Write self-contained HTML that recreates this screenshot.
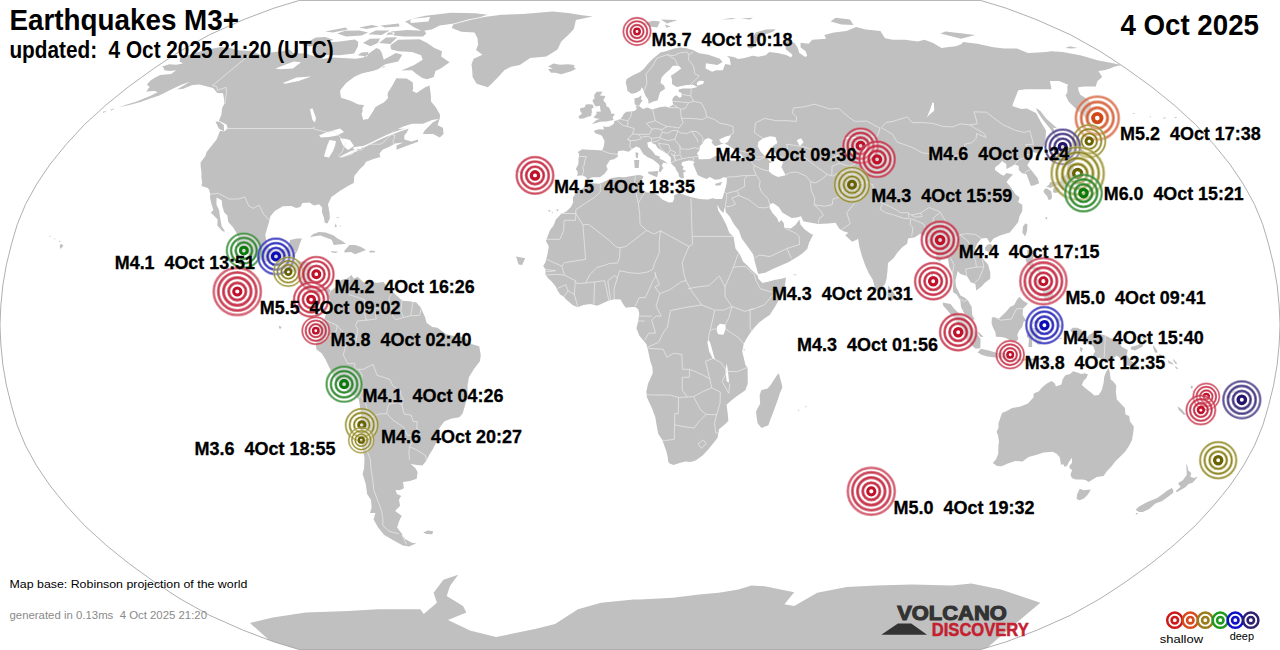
<!DOCTYPE html>
<html><head><meta charset="utf-8">
<style>
html,body{margin:0;padding:0;background:#fff;}
body{width:1280px;height:650px;overflow:hidden;position:relative;font-family:"Liberation Sans",sans-serif;}
svg{position:absolute;left:0;top:0;}
text{white-space:pre;}
</style></head><body>
<svg width="1280" height="650" viewBox="0 0 1280 650">
<defs><clipPath id="oc"><path d="M299.4 649.6L286.6 645.7L273.8 641.8L258.1 635.9L242.4 629.9L225.8 622.5L209.2 615.1L194.6 606.9L180.1 598.8L166.9 590.2L153.8 581.5L141.3 572.5L128.9 563.5L117.2 554.1L105.6 544.7L95.1 535.1L84.5 525.5L75.5 515.7L66.4 505.8L58.3 495.9L50.2 485.9L43.4 475.9L36.7 465.9L31.1 455.8L25.6 445.8L21.4 435.7L17.3 425.6L14.3 415.6L11.4 405.5L8.9 395.4L6.4 385.4L4.7 375.3L2.9 365.3L1.9 355.2L0.9 345.1L0.4 335.1L0.0 325.0L0.4 314.9L0.9 304.9L1.9 294.8L2.9 284.7L4.7 274.7L6.4 264.6L8.9 254.6L11.4 244.5L14.3 234.4L17.3 224.4L21.4 214.3L25.6 204.2L31.1 194.2L36.7 184.1L43.4 174.1L50.2 164.1L58.3 154.1L66.4 144.2L75.5 134.3L84.5 124.5L95.1 114.9L105.6 105.3L117.2 95.9L128.9 86.5L141.3 77.5L153.8 68.5L166.9 59.8L180.1 51.2L194.6 43.1L209.2 34.9L225.8 27.5L242.4 20.1L258.1 14.1L273.8 8.2L286.6 4.3L299.4 0.4L980.6 0.4L993.4 4.3L1006.2 8.2L1021.9 14.1L1037.6 20.1L1054.2 27.5L1070.8 34.9L1085.4 43.1L1099.9 51.2L1113.1 59.8L1126.2 68.5L1138.7 77.5L1151.1 86.5L1162.8 95.9L1174.4 105.3L1184.9 114.9L1195.5 124.5L1204.5 134.3L1213.6 144.2L1221.7 154.1L1229.8 164.1L1236.6 174.1L1243.3 184.1L1248.9 194.2L1254.4 204.2L1258.6 214.3L1262.7 224.4L1265.7 234.4L1268.6 244.5L1271.1 254.6L1273.6 264.6L1275.3 274.7L1277.1 284.7L1278.1 294.8L1279.1 304.9L1279.6 314.9L1280.0 325.0L1279.6 335.1L1279.1 345.1L1278.1 355.2L1277.1 365.3L1275.3 375.3L1273.6 385.4L1271.1 395.4L1268.6 405.5L1265.7 415.6L1262.7 425.6L1258.6 435.7L1254.4 445.8L1248.9 455.8L1243.3 465.9L1236.6 475.9L1229.8 485.9L1221.7 495.9L1213.6 505.8L1204.5 515.7L1195.5 525.5L1184.9 535.1L1174.4 544.7L1162.8 554.1L1151.1 563.5L1138.7 572.5L1126.2 581.5L1113.1 590.2L1099.9 598.8L1085.4 606.9L1070.8 615.1L1054.2 622.5L1037.6 629.9L1021.9 635.9L1006.2 641.8L993.4 645.7L980.6 649.6Z"/></clipPath></defs>
<g clip-path="url(#oc)"><path d="M110.6 109.5L114.8 108.4L111.1 110.7ZM103.0 111.8L107.2 110.7L103.2 113.0ZM94.4 114.1L97.4 113.4L94.5 114.9ZM80.2 116.1L83.6 115.7L80.2 116.8ZM71.3 117.2L74.5 117.0L71.6 118.0ZM1162.4 118.0L1165.6 117.2L1165.3 118.8ZM1174.2 117.6L1176.4 116.8L1176.5 118.4ZM1131.9 113.4L1134.6 113.0L1134.5 114.1ZM1149.0 116.8L1151.1 116.4L1151.0 117.6ZM409.9 18.9L430.1 17.0L428.4 21.6L410.9 23.0ZM433.8 77.1L427.0 79.3L422.3 77.9L416.5 73.9L411.9 70.3L401.4 70.6L414.2 65.0L422.7 59.8L421.1 55.3L412.1 51.9L398.6 51.2L391.2 49.6L390.3 45.3L398.2 39.8L409.5 39.5L419.6 39.2L427.2 43.1L434.4 47.9L442.0 51.2L441.2 56.4L449.6 62.3L440.7 68.5L435.4 71.0ZM336.3 217.1L339.6 217.9L337.1 218.3ZM335.7 223.6L337.0 226.4L334.5 227.2ZM340.4 224.4L341.4 227.2L340.5 226.4ZM310.0 46.6L302.1 45.0L315.8 37.5L325.1 36.9L333.5 39.8L321.6 44.4ZM381.5 34.9L368.0 34.3L375.8 30.5L389.8 30.5ZM359.2 27.5L371.9 25.1L378.9 26.6L366.3 29.0ZM386.3 34.9L394.2 34.3L394.5 32.3L388.2 32.6ZM309.8 236.9L313.3 234.0L318.8 232.0L325.7 232.4L333.9 235.6L336.7 238.1L341.3 240.5L346.1 243.7L333.7 245.1L331.6 239.7L325.0 237.3L320.7 235.6L316.5 236.0ZM423.1 36.6L403.8 36.6L394.0 35.6L391.0 31.4L406.9 29.9L424.5 30.8L426.2 33.5ZM487.5 14.8L475.6 13.2L450.9 12.7L425.4 15.8L414.3 18.2L405.0 21.6L409.4 24.2L414.5 27.5L421.9 31.1L431.7 29.6L439.8 25.4L454.1 23.6L468.2 19.6L479.6 17.2ZM423.3 532.4L427.6 530.5L433.2 531.2L432.3 534.3L426.1 533.9ZM278.8 325.8L281.7 327.0L280.3 329.0L279.2 328.2ZM487.8 87.3L476.6 83.7L472.6 77.1L472.2 70.3L471.5 64.3L473.7 58.8L482.4 54.7L476.0 49.9L478.1 44.7L477.5 38.2L474.5 32.6L461.2 31.7L451.8 28.1L453.2 24.5L469.9 20.1L484.2 17.0L501.4 14.8L523.3 14.1L552.5 11.5L568.5 12.9L582.2 15.3L592.6 16.5L575.9 20.1L573.9 29.0L568.2 34.9L561.3 41.4L557.5 49.6L546.4 56.4L530.2 58.1L519.8 65.0L511.0 66.7L504.3 70.3L499.4 75.7L492.4 82.9ZM60.9 243.7L63.5 245.7L60.3 248.9L59.7 245.7ZM58.9 240.5L61.2 241.3L59.5 242.1ZM54.0 238.1L55.8 239.3L54.4 239.3ZM49.5 235.6L51.1 236.0L49.8 236.9ZM344.2 250.9L349.4 244.9L355.3 244.9L361.7 247.3L365.9 250.1L361.6 251.7L355.0 254.2L351.0 252.1L344.7 252.5ZM551.1 72.8L548.0 69.2L552.8 68.5L548.0 66.4L553.5 63.6L559.9 64.7L568.0 64.3L574.3 65.0L574.0 67.8L576.3 68.5L572.0 71.0L561.2 74.3L555.2 72.8ZM330.8 250.9L338.1 251.7L335.9 253.0L332.1 252.5ZM357.7 55.3L367.1 56.4L368.5 51.9L361.5 52.6ZM368.1 32.6L359.4 30.5L344.9 30.8L337.2 33.5L346.0 36.6L361.6 35.6ZM162.0 66.4L169.4 64.3L176.1 64.7L183.0 63.6L179.6 61.6L180.3 57.1L188.5 55.0L202.9 50.5L220.8 47.0L230.8 48.3L237.8 50.2L249.6 50.9L255.0 52.6L261.0 55.0L270.4 52.6L282.3 51.2L289.6 49.6L293.1 52.9L305.2 53.6L315.1 56.4L323.1 58.8L333.6 57.4L342.1 58.1L355.8 58.8L363.6 57.4L376.4 47.9L379.8 49.6L381.8 52.9L383.8 59.8L395.9 52.9L402.2 54.7L398.2 61.6L385.4 64.3L376.6 70.3L366.6 72.8L355.5 78.2L345.6 84.7L340.0 91.0L341.0 97.8L350.6 100.8L358.4 104.5L366.0 105.3L361.5 113.7L363.3 119.9L368.1 118.4L375.3 107.2L385.7 99.7L388.1 92.2L392.8 84.7L396.3 78.2L406.6 78.6L412.7 82.2L413.2 88.4L412.4 91.0L416.5 92.9L425.2 87.3L429.6 85.5L430.9 95.9L431.0 101.5L435.8 107.2L440.2 114.9L439.6 118.8L432.1 119.9L422.8 123.8L412.0 123.8L403.2 126.5L393.5 131.2L387.1 135.5L397.4 129.2L408.8 128.1L406.8 132.4L404.3 135.5L404.4 139.5L411.6 141.4L418.0 139.5L418.1 141.8L406.9 145.8L396.5 149.7L396.5 145.4L403.2 142.6L395.0 143.4L388.9 147.0L382.4 149.7L379.4 153.7L380.5 156.9L375.0 158.5L366.0 161.7L364.0 165.3L359.9 168.9L354.3 176.1L353.8 182.9L347.9 186.1L339.8 191.0L331.4 197.0L328.0 204.2L329.4 212.3L329.9 218.3L327.4 223.6L324.8 222.8L323.9 217.5L321.9 212.3L322.2 207.5L319.1 204.2L313.8 205.5L309.4 202.6L302.4 203.0L300.4 207.1L296.1 207.9L291.5 205.9L282.8 206.3L274.8 211.1L270.4 216.3L268.9 222.4L265.3 234.4L266.2 241.3L268.7 247.7L273.1 250.5L281.2 250.1L286.7 248.5L289.0 244.5L290.1 240.1L297.0 238.5L301.9 238.5L299.5 244.5L297.6 250.5L295.3 254.6L294.5 261.0L300.7 261.4L308.8 261.8L311.6 264.6L310.2 272.7L308.9 278.7L309.6 283.1L314.2 288.8L319.5 288.4L323.2 286.4L328.4 288.0L330.7 290.8L328.3 296.0L326.8 291.6L323.0 289.2L319.7 292.0L320.2 295.2L315.7 294.0L310.5 291.6L308.1 290.4L304.8 286.4L301.0 284.3L301.7 280.3L298.6 275.9L295.7 272.3L289.9 270.7L282.3 269.1L277.6 263.4L272.9 259.8L265.5 262.2L258.9 259.4L250.6 255.8L242.6 251.3L237.1 246.1L237.0 242.5L238.8 238.5L236.9 233.6L233.0 227.2L228.3 222.0L227.3 215.5L224.1 212.3L222.3 206.3L221.7 200.2L216.6 197.4L216.4 204.2L219.1 210.3L220.0 217.1L221.7 226.4L225.2 231.6L222.5 231.2L217.3 225.6L217.6 219.5L213.3 215.1L210.9 212.7L213.4 209.9L211.3 203.4L210.0 197.8L210.2 193.8L209.1 189.8L207.7 188.1L201.4 186.1L202.2 182.1L201.3 176.5L201.5 172.9L200.6 166.1L200.6 162.5L205.4 156.1L206.6 152.1L216.6 139.5L220.0 130.8L224.1 131.6L227.8 128.5L226.5 124.5L218.9 120.7L221.3 114.9L222.1 108.0L224.4 103.4L223.9 98.2L223.0 93.3L217.3 92.9L213.1 88.0L207.0 86.5L199.6 84.4L192.5 85.1L183.2 88.8L176.9 89.5L190.0 81.8L181.4 84.7L171.2 89.5L159.2 95.5L150.9 98.2L140.7 101.9L131.4 104.5L124.7 106.0L118.7 107.2L127.7 104.2L136.7 101.5L150.1 95.9L157.6 92.2L154.9 91.0L146.1 91.4L149.7 86.9L146.8 84.4L150.5 80.4L155.2 77.5L160.2 75.0L171.0 73.9L176.3 70.3L169.9 71.0L164.3 70.3L163.8 68.1ZM422.8 134.0L433.1 134.0L439.8 137.5L443.5 134.0L443.0 127.7L437.6 125.3L439.7 118.4L433.0 122.2L424.7 130.4ZM370.5 46.3L362.9 43.1L370.0 38.8L380.1 38.5L377.7 43.1ZM325.2 31.4L345.4 27.5L347.9 29.6L332.7 32.6ZM369.8 250.5L375.3 250.9L374.4 252.5L369.5 252.5ZM380.6 25.4L398.9 23.6L399.5 26.6L384.6 27.5ZM330.7 290.8L335.5 287.2L337.6 282.3L342.4 279.5L346.7 278.7L351.6 275.1L353.8 278.7L357.5 276.7L360.1 279.1L363.4 282.3L371.2 282.3L377.5 282.7L383.6 281.9L388.6 288.8L392.0 291.2L397.1 296.0L402.3 300.8L409.3 301.3L416.4 302.5L420.9 307.7L425.0 316.9L426.7 323.0L432.4 327.0L437.4 327.8L446.3 334.3L455.3 336.3L464.1 337.1L471.3 343.9L479.2 346.3L480.8 355.2L479.9 361.2L473.8 369.3L468.9 377.3L467.5 385.4L467.6 396.2L464.8 406.3L462.6 413.6L459.4 417.2L450.8 418.8L444.2 421.6L438.2 429.7L439.1 438.9L435.6 443.7L432.5 449.8L429.4 454.6L426.5 460.6L422.4 465.5L416.9 465.1L410.7 463.9L415.3 467.9L417.6 471.9L416.7 478.7L410.0 481.1L403.0 481.9L403.9 488.3L399.6 490.3L395.6 489.9L396.9 493.9L401.5 495.9L400.3 497.1L399.0 499.9L400.1 505.8L395.1 510.9L401.7 515.7L399.0 521.5L397.1 527.4L402.3 534.3L402.2 535.5L405.1 538.9L412.0 542.8L416.5 543.6L412.9 544.7L409.4 546.6L402.9 545.5L394.6 540.9L384.2 535.1L378.1 527.4L373.6 519.6L375.4 512.9L370.0 512.9L371.6 507.8L371.0 499.9L367.1 493.9L365.8 483.9L362.6 473.9L364.1 467.9L364.5 457.8L361.8 445.8L361.0 435.7L361.5 425.6L361.0 413.6L358.9 399.5L354.6 395.8L344.7 388.6L336.2 380.5L332.1 373.3L325.4 359.2L321.6 353.2L316.4 349.2L315.8 343.1L318.9 338.7L320.9 335.1L316.9 331.0L319.3 325.0L320.1 321.8L324.4 319.0L325.6 314.9L329.2 310.9L330.4 304.9L329.6 298.8L328.3 296.0ZM390.4 44.0L379.0 43.1L386.0 37.5L397.2 37.2ZM391.1 71.0L389.6 67.4L383.7 66.4L380.2 69.2L383.5 72.1ZM224.1 131.2L218.9 128.8L215.5 121.4L219.5 121.8L223.8 124.9ZM354.1 53.6L339.5 55.3L319.2 55.0L311.5 52.6L315.4 46.3L324.9 42.7L340.1 41.4L354.7 39.5L358.2 41.8L358.0 46.3ZM586.9 180.9L588.9 180.5L593.1 183.3L599.1 183.7L602.5 182.5L606.6 180.5L611.7 178.1L618.4 176.9L624.4 177.3L631.7 176.1L638.3 174.9L641.0 175.3L643.7 176.5L641.7 179.7L643.7 183.3L640.7 187.3L643.0 189.8L646.8 192.6L650.8 192.6L657.9 195.0L662.1 199.4L669.0 202.6L672.7 202.2L674.3 198.2L673.9 195.4L678.9 193.0L684.7 195.0L690.9 197.0L699.5 199.0L707.6 199.4L713.0 198.2L715.8 199.0L722.2 199.0L725.1 206.3L723.4 213.1L720.5 210.3L717.2 204.7L718.1 210.3L721.9 216.3L726.5 225.2L729.2 232.4L733.6 236.9L735.5 248.5L739.9 254.6L743.0 261.4L747.4 265.4L751.8 270.3L757.6 275.5L758.4 278.7L762.4 283.1L769.1 281.5L774.3 279.9L781.3 278.7L785.9 277.5L785.4 282.7L784.5 287.6L781.1 294.8L778.4 300.8L774.9 306.9L769.7 314.9L764.4 318.6L759.1 322.6L753.8 328.2L750.2 333.1L746.9 337.9L743.7 343.9L742.2 351.2L743.8 358.0L745.5 365.3L747.5 367.3L747.7 375.3L747.8 383.4L745.4 390.2L736.4 396.6L731.0 400.7L726.6 404.7L727.7 413.6L728.4 420.8L724.8 424.4L719.0 429.2L717.6 437.7L713.5 442.9L708.0 449.8L702.6 455.4L695.6 460.6L690.5 461.9L685.4 461.4L680.3 462.7L673.5 465.1L669.6 463.5L668.3 461.9L667.7 457.0L666.5 451.8L662.3 440.1L658.2 433.7L656.3 423.6L655.3 417.2L652.2 408.7L647.0 397.5L646.3 391.4L648.1 383.4L652.7 373.3L652.4 367.3L650.3 361.2L647.8 349.2L646.4 344.3L643.6 340.7L639.3 335.5L636.4 328.2L638.2 321.0L639.3 313.7L638.2 309.3L635.7 307.3L632.9 306.9L629.3 307.3L625.8 307.7L623.7 304.9L620.5 299.6L614.1 299.2L608.4 300.8L602.7 303.3L597.4 305.7L590.3 304.1L583.5 304.9L577.5 307.3L572.5 304.9L566.2 299.6L563.8 296.8L560.2 294.4L557.5 290.4L555.7 286.4L551.6 281.5L548.1 278.3L545.4 274.7L545.5 269.5L543.2 265.8L545.4 262.6L547.4 254.6L548.8 246.5L545.9 240.9L549.8 230.4L553.5 225.6L555.9 219.5L561.0 213.9L566.3 211.5L570.9 207.1L573.2 202.2L572.8 197.8L575.1 194.2L577.6 191.0L583.5 188.1L585.7 183.3ZM931.5 270.3L933.1 276.7L931.9 278.7L931.1 273.5ZM1002.3 412.7L1005.7 411.5L1012.2 407.9L1019.7 406.7L1027.9 403.5L1033.4 397.5L1033.7 393.4L1038.6 391.4L1042.0 387.4L1046.8 383.4L1051.6 380.9L1054.9 383.4L1055.9 386.6L1061.4 384.6L1062.7 379.3L1065.3 375.3L1070.0 374.1L1073.2 371.3L1077.3 372.5L1081.3 374.1L1085.0 373.3L1088.0 374.5L1086.1 378.5L1083.7 380.5L1081.8 385.0L1086.4 389.0L1091.0 392.6L1094.4 395.4L1098.7 395.0L1101.7 390.2L1103.5 383.4L1104.3 376.5L1106.4 371.3L1108.6 368.1L1109.8 372.5L1110.7 379.3L1113.9 382.2L1116.3 385.4L1115.8 391.4L1116.8 399.5L1120.6 403.5L1124.9 407.9L1125.5 414.4L1129.3 416.0L1129.9 421.2L1133.8 426.4L1133.4 431.7L1132.0 440.1L1129.1 445.8L1125.1 451.8L1119.8 457.0L1115.2 461.4L1111.9 465.9L1106.6 471.5L1103.7 475.9L1096.8 477.1L1088.7 481.9L1085.4 479.9L1082.3 479.5L1075.7 479.5L1071.9 477.9L1070.4 474.7L1072.1 469.9L1069.6 468.3L1069.4 465.9L1072.0 462.7L1071.8 457.8L1068.9 461.9L1067.0 465.9L1064.6 466.7L1063.1 463.9L1061.0 465.1L1059.8 457.4L1056.8 453.8L1052.5 451.8L1043.7 452.6L1036.0 455.0L1028.6 457.0L1022.6 461.4L1015.4 461.0L1007.8 463.5L1001.8 466.3L997.0 465.9L992.8 463.1L996.2 459.0L998.2 453.8L998.4 445.8L999.0 441.7L998.1 435.7L996.6 431.7L998.6 427.6L998.4 423.6L999.8 419.6L1001.1 415.6ZM512.0 169.7L523.5 172.5L521.5 173.3ZM978.0 331.4L983.5 336.7L980.7 337.1L978.3 333.9ZM991.8 317.8L993.9 316.9L999.0 318.6L1005.9 312.1L1010.0 306.9L1014.2 304.9L1017.1 299.6L1019.4 296.8L1022.5 300.0L1028.0 303.7L1024.6 306.9L1022.9 308.9L1022.7 314.9L1026.4 321.0L1023.6 321.8L1022.2 327.0L1018.9 331.0L1017.3 335.1L1018.3 339.1L1016.5 341.1L1011.5 341.1L1005.9 337.9L1001.3 337.1L996.0 336.7L995.4 332.2L993.0 327.4L991.6 323.8ZM1153.4 345.1L1157.5 351.2L1154.9 352.4L1153.2 347.5ZM548.2 210.3L550.6 209.9L549.1 212.3ZM551.5 211.5L552.9 211.9L552.1 213.5ZM556.1 209.9L558.5 209.1L557.7 211.5ZM516.1 256.6L525.2 258.2L522.1 265.0L518.6 264.6ZM635.5 152.1L638.4 152.9L637.7 158.5L635.8 157.3ZM685.2 182.9L694.6 182.9L694.3 184.1L685.5 183.3ZM714.7 184.1L722.2 181.7L720.5 185.3L716.5 185.7ZM587.9 180.1L585.8 176.9L582.3 175.3L577.2 176.1L577.8 172.1L575.8 168.9L578.4 164.1L578.5 159.3L579.2 154.1L577.8 152.1L582.2 149.3L588.6 149.7L595.7 150.1L602.1 150.5L603.9 146.2L604.5 141.0L602.2 136.3L600.7 135.1L595.2 133.2L593.9 130.8L598.9 129.2L603.9 129.6L603.2 125.7L605.3 126.9L609.7 126.5L613.8 123.8L614.3 121.1L617.0 120.3L620.5 119.1L622.7 116.1L624.0 113.4L626.5 111.8L631.0 111.4L634.6 111.1L636.7 109.1L635.8 105.3L634.7 103.4L634.4 98.5L638.5 97.4L641.4 95.2L641.2 99.7L642.6 100.4L640.6 103.0L639.4 105.3L640.0 106.8L643.0 109.1L647.5 107.6L652.0 109.5L659.4 107.2L665.6 106.4L668.6 107.6L673.2 104.5L672.2 99.7L673.7 96.7L676.5 95.2L679.4 97.8L681.6 96.7L681.5 92.9L678.8 91.8L678.6 89.5L682.8 88.4L691.3 88.4L697.4 86.9L693.1 84.7L686.7 85.1L676.7 86.9L671.9 84.0L672.1 80.0L670.9 75.7L675.5 72.8L681.3 68.5L678.8 65.7L672.9 65.7L669.8 69.6L664.7 73.9L661.6 77.5L660.5 82.9L664.1 85.5L665.1 88.8L660.1 92.2L658.9 95.9L657.6 100.4L653.2 101.5L648.6 103.8L648.2 99.7L645.2 95.2L643.4 89.9L641.7 87.3L640.6 90.3L635.7 92.9L631.3 93.7L627.4 90.7L626.7 86.5L625.7 82.2L626.6 79.3L630.3 76.8L634.5 74.6L640.0 72.1L644.1 68.5L647.5 64.3L651.8 59.8L655.6 56.4L660.5 52.6L666.8 50.9L674.1 48.6L680.3 47.6L686.7 48.3L693.5 50.2L699.2 53.3L708.5 54.7L719.9 58.8L722.5 61.9L717.5 65.0L705.9 63.3L705.6 68.5L712.2 71.7L716.0 70.3L722.8 70.3L725.2 64.0L730.8 65.0L729.7 58.5L727.0 56.0L733.8 57.1L738.3 59.1L744.5 58.1L752.8 55.7L758.4 56.7L765.6 55.3L769.3 51.9L777.5 52.9L786.2 55.0L791.2 57.4L792.5 54.7L786.0 49.6L784.7 43.1L788.1 40.5L794.6 43.1L797.9 47.9L799.3 52.9L805.4 57.1L807.2 55.7L805.6 51.2L800.5 47.3L800.6 42.7L808.7 43.7L812.2 39.8L826.1 38.8L824.3 34.9L833.9 32.6L846.4 31.1L856.1 26.9L865.7 29.6L880.4 31.1L885.0 38.2L892.7 39.8L905.0 39.8L917.8 41.4L924.5 39.8L933.2 43.1L941.5 47.9L947.0 47.3L955.8 46.3L961.7 44.0L962.9 42.1L977.4 43.7L993.5 47.3L1004.2 48.6L1016.9 48.6L1028.0 52.9L1037.8 52.6L1045.9 51.9L1051.4 51.2L1062.5 51.9L1080.3 55.3L1098.3 60.5L1109.3 62.6L1121.7 65.0L1114.2 66.7L1110.0 68.5L1104.3 70.3L1098.4 71.0L1102.2 77.1L1097.5 81.1L1095.7 86.5L1084.4 86.5L1078.1 87.3L1078.4 90.3L1080.3 94.8L1088.3 99.7L1091.3 105.3L1090.6 111.1L1089.6 114.9L1089.3 120.7L1080.3 113.0L1068.5 101.5L1065.6 95.2L1067.4 92.2L1067.3 86.5L1068.1 84.7L1059.1 81.1L1049.9 81.1L1051.5 89.2L1042.9 89.2L1034.3 89.2L1025.8 89.2L1018.2 90.3L1016.5 94.8L1013.8 101.5L1012.3 106.0L1021.5 109.1L1026.9 108.4L1036.0 113.0L1041.2 122.6L1046.0 130.4L1045.6 138.3L1044.7 144.2L1041.7 150.1L1036.8 152.9L1031.5 152.1L1030.5 154.9L1030.3 160.5L1027.2 165.3L1032.2 171.3L1037.5 178.1L1039.2 183.3L1034.3 185.3L1030.9 186.1L1028.7 180.1L1026.4 174.1L1022.1 173.3L1018.8 170.1L1018.7 166.1L1014.7 164.5L1010.0 167.3L1006.4 168.9L1006.3 164.1L1002.1 160.9L999.0 164.5L995.2 167.3L995.0 170.1L1001.1 174.5L1003.6 175.7L1006.7 172.9L1013.0 174.5L1009.6 178.1L1006.5 182.1L1010.8 187.3L1015.5 194.2L1019.6 197.4L1018.2 202.2L1022.4 204.7L1022.3 211.1L1019.5 216.3L1018.2 222.0L1014.7 226.4L1009.8 232.4L1003.2 234.4L1000.0 235.6L993.5 238.5L990.1 243.3L986.8 238.1L981.3 238.5L977.2 243.7L975.1 248.5L978.3 254.6L983.6 259.4L988.1 264.6L990.3 272.7L990.2 278.7L984.9 282.7L981.6 286.4L976.2 290.4L975.4 283.9L970.7 282.3L966.9 275.9L960.4 273.9L957.7 271.1L955.4 280.7L956.2 286.8L960.5 295.6L964.5 297.6L968.2 300.8L971.7 306.9L972.2 314.9L974.8 319.4L972.0 319.8L964.4 313.7L961.0 306.9L960.4 300.8L956.9 294.8L952.9 292.0L953.0 282.7L952.6 273.5L949.2 266.6L948.0 258.6L943.5 256.6L939.9 261.4L936.2 259.8L936.5 253.4L931.8 246.5L927.4 241.7L924.8 235.2L919.8 234.0L915.0 237.3L908.1 238.5L907.1 243.7L902.2 247.3L897.5 252.5L893.5 258.2L888.0 263.0L887.5 270.7L886.6 278.7L885.2 283.5L881.9 288.8L879.2 292.4L875.5 289.2L872.6 279.5L868.6 273.1L865.3 265.4L862.1 256.6L859.6 247.7L858.0 238.5L856.7 239.7L852.1 241.7L845.2 235.2L848.4 232.8L843.4 231.2L839.3 228.8L835.6 222.8L828.4 223.6L818.1 224.0L811.1 222.8L803.3 221.2L801.0 216.3L796.7 217.5L791.6 217.9L782.5 212.7L778.8 207.1L773.0 203.0L769.7 204.2L769.7 208.3L772.9 213.5L777.1 217.9L778.9 222.4L781.4 219.9L783.8 223.2L784.1 227.6L790.8 228.4L795.7 224.8L799.3 219.5L800.6 224.8L804.7 229.6L810.3 233.6L813.1 234.8L809.2 242.5L807.2 248.9L802.9 253.0L797.9 256.6L788.4 262.2L779.1 266.2L773.9 268.6L765.2 272.7L758.2 273.9L755.0 262.6L753.2 254.6L747.6 246.5L741.7 238.5L738.9 230.4L734.1 224.4L729.5 216.3L725.8 212.3L725.1 206.3L722.2 199.0L724.1 193.0L725.7 187.3L726.7 182.9L726.9 177.7L723.2 177.3L720.0 179.3L715.0 179.7L709.8 176.9L706.6 178.9L701.5 176.9L697.7 174.9L695.8 170.5L694.2 166.5L693.1 164.1L694.6 162.1L692.5 160.9L688.9 160.5L685.4 161.3L682.2 162.1L681.3 164.5L683.7 167.3L682.5 169.3L686.3 171.3L683.3 172.5L683.9 178.1L681.6 178.5L678.9 176.5L678.4 172.9L676.7 170.9L675.2 167.3L672.8 165.3L670.8 162.9L670.9 157.7L667.5 154.1L662.5 150.9L657.6 148.1L655.6 144.6L652.7 143.4L651.4 141.4L647.3 142.6L648.0 147.0L651.9 150.5L655.5 155.3L659.8 156.5L659.5 158.5L664.5 160.9L667.8 163.7L663.5 162.5L661.7 165.7L663.4 168.1L660.2 172.5L658.8 170.9L659.7 166.1L658.3 163.7L655.7 161.7L652.4 159.3L647.8 157.3L643.2 154.1L641.6 150.9L639.4 147.7L636.2 146.6L632.0 148.9L628.7 151.7L623.3 150.5L618.4 150.9L617.4 154.1L618.0 156.5L614.0 159.3L610.0 160.1L606.2 166.1L607.7 169.3L604.6 173.7L599.8 177.3L592.1 177.3L589.4 178.5ZM1226.6 395.4L1231.0 394.6L1230.6 397.9L1226.6 398.3ZM1232.8 391.4L1237.3 390.2L1234.2 392.6L1231.7 393.0ZM721.3 19.4L731.5 17.9L736.6 19.1ZM740.7 18.6L753.1 17.7L749.9 19.4ZM591.6 124.1L596.3 123.0L600.1 121.8L606.3 121.4L613.7 119.9L612.6 117.6L614.9 114.1L611.3 113.4L610.6 110.7L609.0 107.6L606.7 106.4L605.7 103.0L603.3 100.4L605.4 95.9L600.0 95.5L602.6 91.8L596.9 91.8L594.2 94.8L594.4 98.5L592.4 100.4L594.1 104.2L595.7 106.4L599.9 105.7L600.2 108.7L600.9 111.4L596.1 111.8L596.8 113.7L593.4 117.6L596.7 118.4L600.0 118.8L596.6 119.9L593.9 122.2ZM984.8 247.7L987.5 244.5L990.9 244.1L992.9 246.1L991.4 250.1L988.5 251.7L985.5 250.5ZM1057.6 317.8L1061.2 319.0L1059.5 323.0L1062.3 328.2L1058.8 327.0L1057.3 321.8ZM1062.5 158.1L1065.7 156.9L1065.4 153.7L1072.0 156.1L1073.7 152.5L1076.9 150.9L1073.3 148.1L1068.9 147.3L1059.3 142.2L1060.8 146.6L1063.0 151.3L1059.5 150.9L1059.5 154.1ZM1046.1 186.5L1048.7 185.3L1050.3 182.1L1054.7 182.1L1060.5 181.7L1060.8 175.3L1063.2 176.9L1066.1 174.5L1067.6 170.9L1067.0 166.1L1064.6 161.7L1064.1 159.3L1067.2 158.5L1069.7 162.1L1073.3 165.7L1074.3 170.9L1073.3 172.9L1075.6 176.9L1076.0 180.5L1077.6 181.7L1075.6 184.5L1072.7 183.3L1072.3 185.7L1068.0 185.7L1066.1 186.9L1065.0 188.6L1062.5 189.8L1060.7 186.9L1057.1 185.3L1053.2 186.5L1050.4 188.1ZM591.1 116.1L591.9 111.8L591.6 108.7L593.8 107.6L592.6 104.5L588.8 104.2L585.8 104.5L584.6 107.2L579.9 108.4L580.2 111.1L582.1 113.4L578.4 116.4L579.6 118.8L583.6 118.4L588.4 116.4ZM977.6 352.4L981.0 348.7L988.7 350.4L996.4 352.8L1003.8 352.8L1010.0 356.0L1010.5 359.6L1004.9 358.4L996.1 357.6L987.3 356.4L981.7 354.8ZM1076.3 148.9L1079.7 144.2L1077.6 143.4ZM1082.3 141.0L1085.0 138.3L1082.9 137.1ZM1085.3 134.3L1087.8 129.2L1086.0 128.5ZM1087.5 124.5L1088.4 121.4L1086.8 121.1ZM1043.4 191.0L1045.2 188.6L1047.2 188.6L1051.3 191.4L1052.0 197.0L1051.4 199.0L1048.8 200.2L1046.8 195.8L1044.7 193.8ZM1011.7 357.6L1014.5 358.8L1012.6 360.4ZM1015.6 358.4L1018.0 358.4L1017.2 360.8L1015.4 360.4ZM1019.1 358.8L1026.2 358.4L1025.7 360.4L1018.9 361.2ZM1029.0 358.8L1040.4 358.0L1039.6 360.0L1029.6 360.4ZM1043.5 364.8L1055.2 358.8L1047.9 362.0L1044.4 366.1ZM1025.9 363.6L1032.2 364.8L1031.0 366.5L1026.2 364.4ZM1027.2 250.5L1028.5 250.1L1033.2 250.9L1033.7 256.6L1032.3 261.0L1034.1 266.6L1037.8 267.8L1042.5 272.7L1041.6 273.9L1036.6 270.7L1033.0 269.5L1029.8 269.1L1030.5 266.2L1027.2 264.6L1025.7 259.4L1027.4 256.6ZM778.8 373.3L781.6 383.4L782.4 387.4L779.7 393.4L777.9 399.5L774.2 409.5L770.4 419.6L768.4 425.2L761.6 428.0L757.7 423.6L756.7 417.6L756.0 411.5L760.2 403.5L759.6 395.4L761.2 390.2L767.6 388.6L771.0 384.6L774.0 379.7L776.9 375.3ZM805.2 405.5L806.8 406.7L805.7 407.5ZM1037.2 296.8L1042.6 293.6L1043.1 290.8L1048.1 285.6L1050.8 288.0L1053.4 295.6L1052.2 299.6L1049.6 302.5L1044.8 299.2L1042.7 294.8L1037.9 297.2ZM1028.9 270.7L1033.3 272.3L1032.6 275.5L1030.0 274.3ZM1130.9 347.1L1138.1 345.1L1142.5 341.9L1145.0 342.3L1141.9 347.1L1134.9 350.4L1130.7 349.2ZM1177.6 406.3L1182.0 409.5L1185.9 414.8L1183.5 414.8L1178.5 409.5ZM1070.1 330.2L1072.6 327.8L1077.2 327.8L1081.5 329.8L1082.3 335.9L1085.1 338.7L1089.5 334.7L1094.6 331.4L1100.2 333.9L1105.4 335.5L1110.7 338.3L1115.9 340.3L1119.4 343.5L1122.0 347.1L1127.8 350.0L1126.7 355.2L1129.9 359.2L1133.2 362.4L1138.2 366.5L1134.6 366.9L1126.6 365.3L1122.8 360.4L1116.8 355.6L1113.0 358.4L1111.7 361.6L1103.9 361.6L1099.9 357.6L1095.3 358.4L1093.0 355.2L1095.1 351.2L1093.0 345.9L1087.1 343.1L1080.4 340.7L1076.8 341.1L1076.3 336.7L1073.1 336.3L1074.6 333.9L1070.8 331.0ZM1140.2 335.9L1145.5 339.1L1148.1 343.5L1146.8 342.3L1142.6 338.3ZM940.5 33.5L945.4 31.4L963.0 33.5L975.1 34.9L961.1 38.8ZM1136.2 512.9L1138.4 513.3L1135.5 514.9ZM746.8 47.0L752.1 42.1L752.5 37.5L755.8 32.6L765.7 29.6L775.9 29.3L772.9 31.7L763.3 34.9L757.2 39.8L755.2 46.0L751.3 48.6ZM1186.5 463.5L1187.5 466.7L1188.4 470.7L1191.3 473.1L1190.3 476.7L1193.9 477.9L1198.0 476.7L1192.5 482.7L1188.5 483.9L1185.7 487.1L1176.9 492.3L1175.8 491.1L1180.7 486.7L1178.4 484.3L1178.7 482.7L1182.8 480.3L1186.7 475.1L1186.7 471.9L1186.3 467.1ZM1171.7 487.9L1173.1 489.5L1173.3 492.7L1168.1 496.7L1162.3 501.1L1155.4 503.4L1149.2 509.0L1142.8 512.1L1139.0 512.1L1135.5 509.8L1139.0 506.6L1147.3 501.9L1157.2 497.9L1162.7 493.9L1167.0 490.7ZM1044.9 217.1L1047.4 217.5L1046.7 219.9ZM1019.8 291.2L1027.0 283.1L1027.5 281.1L1020.7 289.2ZM1035.7 277.9L1040.2 280.7L1041.8 286.8L1038.2 285.6L1036.2 282.7ZM797.6 409.5L799.6 410.3L798.5 411.1ZM1058.0 140.2L1061.4 138.3L1055.5 134.3L1053.2 127.7L1057.4 128.5L1046.4 118.8L1040.4 111.1L1036.1 108.0L1037.1 111.1L1042.1 118.8L1050.0 128.5L1053.7 134.3ZM1043.4 274.7L1049.0 279.9L1047.0 284.7L1044.1 280.7ZM-4.6 378.9L0.7 380.9L-2.2 380.5ZM634.1 160.1L639.3 160.1L638.7 168.1L634.7 168.1ZM1059.2 337.9L1069.1 340.3L1064.5 339.1L1059.9 339.1ZM830.5 21.6L835.7 17.7L850.0 19.4L853.5 25.1L841.5 24.5ZM1052.9 192.2L1053.5 188.1L1057.2 186.5L1059.8 189.0L1059.0 191.4L1055.9 193.0ZM647.9 171.7L658.5 170.9L657.0 177.3L648.6 173.7ZM792.8 274.3L797.1 274.7L795.0 275.5ZM1156.2 350.0L1157.8 352.4L1154.9 352.8L1153.9 347.5ZM1159.4 354.0L1166.2 358.0L1164.3 359.2L1159.3 355.6ZM1167.8 360.0L1172.8 363.2L1173.7 364.8L1168.6 363.2ZM1173.2 358.8L1177.4 363.6L1175.6 364.0L1173.4 360.8ZM1175.0 366.1L1178.6 368.5L1176.7 368.9L1175.2 367.3ZM887.6 298.8L887.6 290.8L888.1 285.6L891.5 289.6L894.9 294.8L894.0 299.2L890.5 301.3L888.3 299.6ZM1028.3 347.1L1029.0 339.1L1026.5 336.3L1028.9 329.0L1030.4 324.2L1032.8 322.2L1035.6 320.2L1041.7 321.4L1047.3 319.4L1049.1 318.6L1046.7 323.0L1041.7 323.4L1035.3 323.0L1032.2 324.2L1031.4 327.4L1036.3 328.6L1043.1 328.6L1040.9 329.8L1036.9 332.6L1039.0 337.1L1041.7 341.1L1040.2 344.7L1037.3 344.3L1035.3 341.1L1033.7 335.5L1032.1 339.1L1032.2 347.1ZM942.7 302.5L950.6 304.1L953.6 308.1L959.8 314.5L965.2 317.8L971.7 325.0L974.1 329.0L977.2 334.3L980.6 339.1L980.3 348.3L975.7 348.7L970.2 343.9L967.8 341.1L963.3 335.1L961.0 328.6L957.1 323.8L955.2 318.2L950.9 314.5L946.9 309.7L943.2 305.7ZM643.4 23.0L653.3 20.7L660.0 21.6L657.3 27.5L649.2 26.6ZM660.9 19.6L677.6 20.1L667.0 23.6ZM664.9 24.5L670.9 26.6L666.5 27.8ZM1022.3 232.4L1025.1 236.4L1027.0 231.2L1027.5 224.4L1025.4 223.2L1023.0 226.4ZM1079.7 488.7L1083.9 490.3L1090.9 489.5L1087.7 494.7L1083.6 498.7L1079.4 500.3L1076.6 499.1L1077.0 494.7ZM1080.1 347.1L1082.9 348.3L1081.5 352.4L1080.2 350.8ZM-5.8 409.9L-4.5 410.7L-5.1 411.1ZM1190.9 385.4L1193.1 386.6L1191.9 389.0L1190.7 387.8ZM1192.3 390.2L1194.1 391.4L1193.0 391.8ZM1194.3 395.4L1195.6 395.8L1194.8 396.6ZM1196.4 400.3L1197.2 401.5L1196.1 401.9ZM1065.1 47.9L1069.9 46.3L1077.7 47.9L1071.2 48.6ZM743.6 348.3L745.0 350.0L743.9 350.8ZM250.0 623.0L272.8 617.4L305.6 612.5L348.3 610.9L377.8 609.2L420.4 609.2L423.7 614.0L436.9 602.7L433.6 592.8L443.4 579.7L458.2 574.8L450.0 586.0L446.7 596.0L463.0 606.0L466.4 612.5L448.0 620.0L470.0 630.5L496.0 637.0L535.0 629.0L555.0 624.0L578.0 609.2L601.0 602.7L633.7 599.4L640.0 599.4L672.8 597.7L699.0 594.4L718.7 592.8L738.4 589.5L751.5 585.6L764.7 586.2L794.2 592.2L784.4 604.3L794.2 606.0L817.2 592.8L846.7 586.9L876.2 585.6L912.3 584.6L951.7 585.6L971.4 583.6L1000.9 589.5L1040.3 602.7L984.5 650.0L280.0 650.0Z" fill="#c0c0c0" stroke="none"/>
<path d="M282.9 82.9L296.5 77.5L311.3 76.4L298.6 81.1L285.0 83.7ZM275.3 68.5L293.8 61.6L301.0 62.3L292.9 68.5L280.0 69.2ZM925.9 118.4L929.1 114.9L934.2 110.7L933.9 103.0L932.5 102.3L930.3 109.1L927.2 116.8ZM717.1 326.6L720.0 323.8L725.0 324.6L725.7 328.6L723.5 334.7L718.2 334.3L716.8 331.0ZM708.2 339.1L710.3 343.1L713.7 355.2L715.1 359.6L712.6 358.4L709.2 351.2L707.5 343.1ZM726.7 363.2L728.0 371.3L729.1 382.6L726.7 381.4L725.5 371.3ZM799.8 146.2L803.6 142.2L801.0 138.3L796.7 140.2ZM842.4 139.5L853.1 138.3L857.6 137.9L855.8 137.1L844.8 137.1ZM697.2 85.8L703.4 83.7L703.8 81.1L699.3 80.8L696.8 82.9ZM757.6 146.2L758.4 141.8L763.1 138.3L769.9 136.3L775.5 137.1L777.4 143.0L772.6 146.2L773.3 151.3L778.7 156.1L779.8 160.1L783.4 161.7L781.4 166.9L785.7 175.3L778.0 176.9L772.6 174.5L768.8 171.3L769.1 166.5L769.2 162.9L771.8 162.5L767.5 158.9L764.8 156.1L760.8 152.1ZM698.6 159.3L698.2 154.9L696.8 153.7L699.5 150.1L699.8 146.2L702.4 143.4L704.8 139.5L708.4 137.9L712.8 140.2L711.5 142.6L715.1 146.2L719.1 145.0L724.3 143.0L721.1 143.0L719.1 139.5L726.5 136.3L731.1 135.5L729.4 139.1L727.9 141.8L724.7 143.4L728.8 145.8L734.7 149.7L738.3 152.1L742.4 156.1L742.7 158.1L737.8 160.5L731.3 160.5L725.6 158.9L721.0 156.1L715.5 156.1L709.9 158.9L702.5 159.3ZM340.8 89.4L346.1 83.0L354.8 76.5L362.3 73.3L373.1 71.1L381.7 67.9L390.3 65.8L396.7 69.0L394.6 76.5L390.3 85.1L387.0 92.7L388.1 98.0L383.8 102.4L375.2 106.7L373.1 111.0L367.7 119.6L363.4 117.4L362.3 108.8L364.4 104.5L355.8 101.3L349.4 98.0L341.8 97.0ZM319.0 135.5L326.0 132.5L333.0 130.5L340.0 128.5L344.0 132.0L337.0 135.5L329.0 137.0L321.0 137.5ZM329.5 140.0L336.0 141.0L335.0 146.0L333.0 151.0L329.0 157.5L324.0 156.5L325.5 151.0L327.0 146.0ZM340.0 138.5L345.0 138.8L350.0 140.0L354.0 146.0L348.0 150.0L343.0 145.5ZM340.0 156.5L345.0 154.0L350.0 151.5L357.5 148.7L356.5 151.5L348.0 155.0L342.0 157.5ZM353.5 147.2L358.0 146.5L362.5 146.0L361.5 148.8L356.0 149.6L353.5 149.6ZM310.0 109.0L312.5 108.5L316.0 118.0L315.0 122.5L312.5 120.0L311.0 114.0ZM362.0 146.5L370.0 143.0L378.0 139.0L387.5 134.5L400.0 130.0L412.5 125.5L413.0 127.0L400.0 131.5L388.0 136.0L378.0 140.5L370.0 144.5L363.0 148.0Z" fill="#fff" stroke="none"/>
<path d="M226.0 128.5L313.2 128.5L314.1 126.9L314.1 129.2L324.7 131.6L328.6 132.4L334.2 131.2L341.0 137.9L342.0 139.1L343.6 141.0L345.8 143.0L342.2 152.1L338.5 155.7L339.7 157.3L352.4 154.1L353.2 151.3L362.2 149.7L363.8 147.3L369.1 144.2L380.3 144.2L383.7 142.2L387.8 137.5L391.5 134.7L395.1 135.1L393.0 141.8L394.4 145.0M252.4 52.6L212.5 85.5L216.9 86.5L217.4 90.3L226.1 87.3L226.6 92.5L225.0 101.5L225.4 104.2M210.1 194.2L218.5 193.4L228.9 199.0L238.4 199.0L244.9 197.0L248.7 205.9L253.2 208.3L259.2 205.1L263.7 214.3L270.0 220.8M280.1 266.6L280.7 264.2L284.3 260.6L287.2 260.2L288.2 253.4L292.7 253.4L295.9 250.5M292.7 253.4L291.3 261.0L294.7 261.8M287.1 269.9L290.2 267.0L292.9 268.6L295.5 271.5M290.8 264.6L292.9 268.6M296.8 272.7L301.7 268.6L305.5 265.4L311.9 264.6M301.7 280.3L308.7 281.1M310.8 292.8L312.2 286.4M331.1 290.4L328.3 296.0M349.7 277.1L349.0 280.7L346.4 288.8L349.3 294.8L356.3 296.8L365.0 300.0L363.7 306.9L365.3 316.9L366.7 320.2M392.7 291.6L389.3 297.6L389.0 304.1L381.4 308.9L374.4 308.1L376.3 319.0L366.7 320.2M401.9 301.3L400.9 311.3L403.7 317.4M412.9 302.1L410.8 315.7M389.0 304.1L391.8 308.1L392.7 316.5L395.8 319.8L403.7 317.4L410.8 315.7L419.7 315.3L421.2 308.1M366.7 320.2L357.4 321.0L355.6 325.8L357.8 329.4L355.9 341.9M355.9 341.9L345.4 334.7L337.1 325.4M337.1 325.4L329.0 321.8L324.4 319.4M337.1 325.4L336.1 331.0L326.3 338.7L319.2 338.7M355.9 341.9L345.7 345.9L343.3 354.8L347.6 363.6L354.6 363.2L355.0 369.3L358.6 369.3M358.6 369.3L362.2 375.3L360.6 386.6L362.6 391.4L360.2 395.4L358.5 398.7M358.6 369.3L363.2 369.3L373.1 364.4L377.0 375.3L389.7 379.3L392.9 385.8L400.4 390.6L400.8 395.0L403.2 398.3L401.8 404.7M360.2 395.4L365.6 403.5L367.6 411.1L371.8 416.8M371.8 416.8L379.1 414.0L386.7 413.6M386.7 413.6L387.7 407.5L389.4 403.9L398.4 402.7L401.8 404.7M401.8 404.7L404.2 414.0L411.2 415.2L413.3 421.6L417.1 421.6L416.9 428.0M386.7 413.6L393.8 420.8L403.2 426.8L407.6 435.3L414.2 435.3L416.9 428.0M371.8 416.8L368.6 424.0L369.5 433.7L367.2 441.7L367.4 451.8L370.4 459.8L371.1 469.9L372.8 479.9L373.8 489.9L378.2 501.9L381.8 511.7L382.9 519.6L382.9 525.5L388.9 531.2L398.8 533.9M402.2 535.5L406.5 544.3M416.9 428.0L420.5 434.1L414.4 438.9L409.4 446.6L408.9 453.8L409.5 459.8M409.4 446.6L415.5 449.4L425.5 455.4L426.5 460.6M600.4 184.1L600.2 192.2L593.8 197.8L575.9 209.5L575.8 213.5M575.8 213.5L560.3 213.5M575.8 213.5L575.5 220.3L564.1 220.3L563.7 230.4L559.9 239.3L545.9 239.3M582.9 224.8L585.6 259.4L564.4 262.6L561.8 266.2L546.9 259.4M575.8 213.5L582.9 224.8L588.8 224.4L609.3 240.5L616.2 246.9L620.1 247.7M635.3 176.5L634.3 185.7L638.3 203.4M645.1 191.8L641.0 198.2L638.3 203.4M638.3 203.4L639.7 214.3L640.0 224.4L646.6 230.4M646.6 230.4L625.7 246.5L620.1 247.7M690.9 197.8L692.2 236.4M692.2 236.4L733.6 236.4M692.2 236.4L692.4 244.5L688.9 246.5M688.9 246.5L660.5 230.8L653.9 234.0L646.6 230.4M660.5 230.8L659.2 241.3L659.3 252.5L654.1 264.6L652.7 269.5M620.1 247.7L619.6 257.4L617.5 263.0L609.7 263.4L605.5 265.0M561.8 266.2L564.5 275.1L575.3 280.7L576.7 283.5L585.5 283.1L589.9 274.7L597.0 267.4L605.5 265.0M614.6 275.5L617.4 277.9L619.6 270.7L629.4 272.7L638.9 273.5L647.8 271.9L652.7 269.5M614.1 299.2L614.1 288.8L617.4 277.9M635.0 306.5L639.3 297.6L645.3 297.6L648.5 290.8L652.7 281.5L655.9 275.9L654.8 272.3M654.8 272.3L655.9 275.9L659.5 284.7L654.9 286.8L659.8 293.6M659.8 293.6L670.1 289.6L681.7 281.5L686.0 280.7M686.0 280.7L684.1 274.7L682.2 262.6L688.9 246.5M687.8 288.8L698.4 286.8L709.0 285.6L719.4 275.9L725.0 286.8M725.0 286.8L727.3 281.5L733.4 267.4M733.4 267.4L737.8 254.6L740.2 252.5M733.4 267.4L738.6 266.6L745.7 266.6L754.4 274.7M754.4 274.7L756.0 280.7L760.4 288.8L774.7 292.8L764.3 304.9L753.7 308.9M753.7 308.9L744.8 311.3L732.0 306.5M732.0 306.5L725.1 296.8L725.0 286.8M753.7 308.9L750.1 309.3L750.2 328.6L752.3 331.8M743.7 343.9L738.4 337.5L725.3 329.0M725.3 329.0L725.7 323.8L728.8 317.8L732.0 306.5M732.0 306.5L723.5 310.1L714.6 310.1M714.6 310.1L712.9 319.0L710.0 330.6L713.9 329.0L716.8 329.0M710.0 330.6L708.2 339.1M686.0 280.7L691.4 290.8L701.8 304.9L714.6 310.1M701.8 304.9L684.4 307.7L670.5 310.5M659.8 293.6L656.0 306.1L661.3 316.1M670.5 310.5L667.4 327.0L663.1 333.1L658.5 342.3L647.8 347.1M644.6 340.3L648.9 333.1L655.6 333.1L651.7 320.2L656.0 316.1L661.3 316.1M639.3 316.1L644.6 316.1L651.7 316.1M644.6 321.0L638.2 321.0M647.8 348.3L663.1 349.2L666.9 357.2L673.7 353.2L681.8 354.4L682.4 369.3L689.5 369.3L689.4 377.3M689.4 377.3L682.3 377.3L682.2 390.2L687.3 397.0M646.3 394.6L653.7 395.0L669.8 395.0L678.5 397.5L687.3 397.0M689.5 369.3L694.8 371.3L703.5 375.3L709.8 378.9L705.5 361.2L713.3 358.4M713.3 358.4L721.1 362.8L726.9 371.3L737.2 371.7L747.5 367.3M713.3 358.4L709.2 351.2M687.3 397.0L693.6 396.6L703.2 391.4L711.7 387.8M709.8 378.9L711.7 387.8M711.7 387.8L720.4 392.2L720.0 403.5L716.5 414.8M716.5 414.8L706.1 414.4L700.3 409.5L693.6 396.6M678.5 397.5L678.3 413.6L674.8 413.6L674.6 424.8M674.6 424.8L674.3 439.3L665.7 440.5L662.3 440.1M674.6 424.8L684.9 426.8L694.2 428.0L698.9 421.6L706.1 414.4M716.5 414.8L714.5 423.6L715.7 432.9L718.8 433.3M698.1 443.7L703.4 440.1L706.3 443.7L701.3 448.2L698.1 443.7M726.9 371.3L722.1 381.4L728.8 393.4L729.8 383.4M545.7 275.1L556.4 274.3L564.5 275.1M557.5 288.4L565.7 284.7L568.1 290.8L563.8 296.8M568.1 290.8L574.4 294.4L577.9 307.3M575.3 280.7L574.4 294.4M593.8 304.5L594.7 281.9M608.8 300.4L604.6 280.7L594.7 281.9L585.5 283.1M610.6 300.0L607.8 280.7L614.6 275.5M545.5 269.5L555.4 270.7L545.8 271.9M602.1 150.5L609.3 153.3L618.0 154.5M578.7 156.5L586.5 156.5L584.9 160.1L584.2 165.3L582.8 166.5L583.8 172.1L582.3 175.3M617.0 120.3L622.1 124.9L627.0 126.5L634.4 128.5L632.5 134.0L627.4 139.5L630.5 140.6L629.8 147.3L632.0 148.9M619.8 119.1L627.4 120.7L627.7 121.4M627.7 121.4L628.0 124.1L627.0 126.5M631.6 111.8L630.9 116.1L627.7 121.4M635.8 105.7L640.0 106.0M652.6 109.5L654.3 116.8L655.3 120.7M655.3 120.7L647.7 123.0L646.5 123.4L651.8 129.2M651.8 129.2L649.4 134.3L641.6 134.3L638.7 134.3L632.5 134.0M627.4 139.5L630.5 140.6L636.8 140.2L641.6 138.3L638.7 134.3M641.6 137.1L647.9 136.3L651.7 138.3L658.9 137.5L660.1 136.7M651.8 129.2L655.5 128.5L661.8 129.6L662.2 132.4L660.1 136.7M651.7 138.3L651.4 141.8M655.3 120.7L660.0 123.4L667.2 126.5L672.5 126.9L679.1 128.1M661.8 129.6L667.2 126.5M662.2 132.4L667.5 133.2L672.7 130.4L678.0 130.8M679.1 128.1L683.0 122.6L681.0 116.1L680.4 109.1L678.2 107.6L668.6 107.6M673.2 104.5L678.2 107.6M672.3 101.2L688.7 102.7M681.4 94.4L690.8 95.9M691.3 88.4L690.8 95.9L693.5 101.2L688.7 102.7L684.8 108.7L680.4 109.1M681.2 118.4L691.8 118.4L702.6 119.5L706.9 116.8M706.9 116.8L705.0 109.9L701.4 103.0L693.5 101.2M706.9 116.8L714.6 119.5L720.1 123.4L727.0 124.5L732.9 126.5L733.3 133.2L728.7 135.9M678.0 130.8L680.4 132.8L686.7 133.6L691.8 131.2L696.2 131.6L700.2 134.3L703.1 138.3L702.3 142.6M691.8 131.2L697.6 140.2L697.8 142.2M678.0 130.8L674.8 139.5L679.9 146.2L681.4 148.9L688.1 149.3L695.4 147.7L699.7 149.3M660.1 136.7L660.8 138.3L667.9 140.6L672.3 139.8L674.8 139.5M651.4 142.2L658.1 141.0L660.8 138.3M658.5 143.4L668.7 144.6M658.5 143.4L660.8 148.1L664.5 152.1M668.7 144.6L670.5 150.1L667.5 154.1M679.9 146.2L680.1 154.1M674.0 156.1L680.1 154.9L682.3 158.9L675.5 160.5L674.0 156.1M670.8 162.9L675.5 160.5L674.4 156.5L671.3 153.7M682.3 158.9L687.1 157.7L692.3 157.3L694.0 158.9L692.5 160.9M692.3 157.3L698.3 156.1M671.3 153.7L674.0 156.1L675.4 152.1L670.5 150.1M644.3 90.3L647.0 82.9L646.0 73.9L652.1 66.7L657.0 58.1L662.1 56.4L667.1 54.7M667.1 54.7L675.5 59.8L677.5 65.7M667.1 54.7L673.7 55.7L679.8 52.9L687.4 51.9L688.8 54.7M688.8 54.7L688.6 59.8L693.6 66.1L694.9 73.9L699.3 76.1L690.3 84.7M688.8 54.7L693.3 51.9M755.4 123.0L764.4 118.4L776.3 120.7L787.0 120.7L796.4 121.4L796.5 116.8L792.3 113.0L793.7 108.0L803.8 106.8L814.7 104.2L830.0 109.1L838.7 108.4L845.9 114.9L854.7 121.4L866.8 121.1L879.9 128.1M755.4 123.0L754.9 128.5L754.4 132.4L759.6 136.3L763.1 138.3M879.9 128.1L877.5 136.3L869.7 136.3L869.7 142.2L863.1 144.2L866.5 152.9M866.5 152.9L849.7 152.9L837.5 155.3M837.5 155.3L829.0 160.1L820.6 152.5L803.1 146.6L786.6 144.2L789.7 158.9M789.7 158.9L783.0 158.1L779.0 156.1M881.3 127.7L885.9 122.6L893.0 121.4L907.4 116.8L912.1 122.6L922.8 122.6L932.5 123.4L943.4 126.5L952.9 126.9L960.4 123.8L969.5 124.9M881.3 127.7L892.5 134.3L897.3 142.2L912.1 147.3L922.3 152.9L934.1 154.1L948.6 157.7L963.2 154.1L965.0 144.2L972.1 142.6L976.1 138.3L976.7 133.6L986.1 137.5L984.2 133.6L969.5 124.9M969.5 124.9L977.4 123.8L974.0 111.8L986.3 112.2L1002.6 124.5L1015.5 130.4L1024.5 132.4L1029.8 130.8L1033.5 144.2L1025.8 144.6L1030.4 152.9L1030.0 154.5M1014.7 164.5L1018.0 160.1L1023.5 158.1L1027.0 154.5L1030.0 154.5M1024.6 172.9L1026.5 171.3L1030.1 169.7M866.5 152.9L866.5 160.1L857.5 162.9L850.2 166.1L855.4 175.3L854.3 176.1L858.6 180.1L866.7 182.1L873.1 184.9L872.7 194.2L876.4 200.2L882.5 203.4M882.5 203.4L891.4 207.1L900.9 212.7L908.1 212.7L911.6 215.1L920.5 213.1L929.1 207.5L936.5 210.3L940.3 212.3L945.5 221.2L944.0 228.4L951.3 236.0L957.6 238.5L959.8 234.8L966.6 233.6L975.4 234.4L981.3 238.5M880.1 209.1L885.4 212.7L894.4 215.1L903.6 218.3L909.2 218.7L908.1 212.7M880.1 209.1L882.5 203.4M911.6 215.1L914.7 217.1L922.2 216.7L920.5 213.1M911.7 236.4L913.0 227.6L910.2 224.8L910.6 218.7L915.3 220.3L923.6 224.0L925.6 228.4L923.8 230.4L927.8 239.3L927.0 241.7M927.8 239.3L929.2 229.6L932.3 224.4L933.5 217.9L939.7 212.7M841.8 229.6L850.2 223.6L846.7 212.7L854.5 203.4L859.6 199.8L861.0 195.0L855.7 190.2L855.7 184.9L866.7 182.1M814.1 204.7L824.6 206.3L832.2 204.7L833.0 199.0L841.0 196.6L843.3 188.6L844.8 182.5L845.0 177.7L854.3 176.1M818.4 223.6L819.2 218.3L823.3 215.5L821.1 211.1L814.1 204.7M814.1 204.7L814.8 198.2L811.2 190.2L810.5 181.7M810.5 181.7L815.7 182.9L821.7 179.3L827.3 174.5L832.7 176.1L838.6 172.9L843.5 172.5L854.3 176.1M810.5 181.7L806.1 176.1L797.1 172.1L790.5 172.5L786.0 174.9M789.7 158.9L796.6 153.7L802.0 156.1L807.8 160.1L815.7 166.1L827.3 174.5M831.8 175.3L832.1 166.1L839.7 163.3L848.6 166.1L850.2 166.1M837.5 155.3L836.6 158.1L839.7 163.3M769.7 204.2L768.0 198.6L761.6 192.2L759.2 186.1L760.2 180.9L756.1 174.9L753.7 169.3L754.2 165.3M755.5 175.3L747.6 175.7L742.9 175.7L733.1 176.9L728.4 176.9L726.9 177.7M747.6 175.7L744.3 178.9L744.8 186.5L737.1 190.6M737.1 190.6L738.9 195.4L748.8 199.8L758.7 207.5L764.9 207.9L769.9 206.3M738.9 195.4L731.7 198.2L735.6 204.2L730.6 206.3L725.5 206.7M727.2 193.4L737.1 190.6M724.7 191.8L726.5 193.4L726.6 198.2L725.4 206.3M742.7 158.1L749.1 159.7L754.2 165.3M754.8 258.2L759.2 255.0L769.8 256.6L786.9 248.5L799.6 244.5M799.6 244.5L799.0 236.4L796.4 233.6L784.1 227.6M786.9 248.5L791.3 258.2M736.5 150.5L743.0 151.3L749.8 153.3L756.8 156.9L764.9 156.9M749.1 159.7L753.9 159.3L758.9 160.1L764.9 156.9M754.2 165.3L760.2 168.5L765.4 170.5L768.4 170.5M953.2 284.7L952.6 272.7L954.0 264.6L950.8 258.6L947.0 250.5L954.1 242.9M954.1 242.9L957.6 238.5M954.1 242.9L959.1 246.5L962.4 253.0L972.0 254.6L975.6 260.6L976.4 267.0M976.4 267.0L965.6 269.1L966.6 275.9M959.8 234.8L967.7 240.9L970.2 245.7L975.5 251.7L982.7 260.6L983.8 267.0M983.8 267.0L979.2 278.7L974.3 283.1M976.4 267.0L983.8 267.0M959.6 298.8L964.7 301.7L966.8 300.0M993.9 316.9L1000.8 320.2L1011.4 319.0L1016.5 308.9L1023.2 308.5M1105.4 335.5L1103.9 361.6M1046.9 362.0L1047.4 364.8" fill="none" stroke="#ececec" stroke-width="0.7" stroke-linejoin="round"/></g>
<path d="M299.4 649.6L286.6 645.7L273.8 641.8L258.1 635.9L242.4 629.9L225.8 622.5L209.2 615.1L194.6 606.9L180.1 598.8L166.9 590.2L153.8 581.5L141.3 572.5L128.9 563.5L117.2 554.1L105.6 544.7L95.1 535.1L84.5 525.5L75.5 515.7L66.4 505.8L58.3 495.9L50.2 485.9L43.4 475.9L36.7 465.9L31.1 455.8L25.6 445.8L21.4 435.7L17.3 425.6L14.3 415.6L11.4 405.5L8.9 395.4L6.4 385.4L4.7 375.3L2.9 365.3L1.9 355.2L0.9 345.1L0.4 335.1L0.0 325.0L0.4 314.9L0.9 304.9L1.9 294.8L2.9 284.7L4.7 274.7L6.4 264.6L8.9 254.6L11.4 244.5L14.3 234.4L17.3 224.4L21.4 214.3L25.6 204.2L31.1 194.2L36.7 184.1L43.4 174.1L50.2 164.1L58.3 154.1L66.4 144.2L75.5 134.3L84.5 124.5L95.1 114.9L105.6 105.3L117.2 95.9L128.9 86.5L141.3 77.5L153.8 68.5L166.9 59.8L180.1 51.2L194.6 43.1L209.2 34.9L225.8 27.5L242.4 20.1L258.1 14.1L273.8 8.2L286.6 4.3L299.4 0.4L980.6 0.4L993.4 4.3L1006.2 8.2L1021.9 14.1L1037.6 20.1L1054.2 27.5L1070.8 34.9L1085.4 43.1L1099.9 51.2L1113.1 59.8L1126.2 68.5L1138.7 77.5L1151.1 86.5L1162.8 95.9L1174.4 105.3L1184.9 114.9L1195.5 124.5L1204.5 134.3L1213.6 144.2L1221.7 154.1L1229.8 164.1L1236.6 174.1L1243.3 184.1L1248.9 194.2L1254.4 204.2L1258.6 214.3L1262.7 224.4L1265.7 234.4L1268.6 244.5L1271.1 254.6L1273.6 264.6L1275.3 274.7L1277.1 284.7L1278.1 294.8L1279.1 304.9L1279.6 314.9L1280.0 325.0L1279.6 335.1L1279.1 345.1L1278.1 355.2L1277.1 365.3L1275.3 375.3L1273.6 385.4L1271.1 395.4L1268.6 405.5L1265.7 415.6L1262.7 425.6L1258.6 435.7L1254.4 445.8L1248.9 455.8L1243.3 465.9L1236.6 475.9L1229.8 485.9L1221.7 495.9L1213.6 505.8L1204.5 515.7L1195.5 525.5L1184.9 535.1L1174.4 544.7L1162.8 554.1L1151.1 563.5L1138.7 572.5L1126.2 581.5L1113.1 590.2L1099.9 598.8L1085.4 606.9L1070.8 615.1L1054.2 622.5L1037.6 629.9L1021.9 635.9L1006.2 641.8L993.4 645.7L980.6 649.6Z" fill="none" stroke="#9a9a9a" stroke-width="0.8"/>
<g fill="none"><circle cx="637.0" cy="31.5" r="14.60" fill="#fff" fill-opacity="0.35"/><circle cx="637.0" cy="31.5" r="2.70" stroke="#c0102a" stroke-width="2.48" stroke-opacity="1.00"/><circle cx="637.0" cy="31.5" r="6.53" stroke="#c42c44" stroke-width="2.22" stroke-opacity="0.72"/><circle cx="637.0" cy="31.5" r="6.53" stroke="#c0102a" stroke-width="0.95" stroke-opacity="0.70"/><circle cx="637.0" cy="31.5" r="10.22" stroke="#c42c44" stroke-width="2.15" stroke-opacity="0.66"/><circle cx="637.0" cy="31.5" r="10.22" stroke="#c0102a" stroke-width="0.92" stroke-opacity="0.64"/><circle cx="637.0" cy="31.5" r="13.61" stroke="#c42c44" stroke-width="2.07" stroke-opacity="0.54"/><circle cx="637.0" cy="31.5" r="13.61" stroke="#c0102a" stroke-width="0.89" stroke-opacity="0.52"/><circle cx="1097.3" cy="118.1" r="23.00" fill="#fff" fill-opacity="0.35"/><circle cx="1097.3" cy="118.1" r="4.25" stroke="#d04818" stroke-width="3.91" stroke-opacity="1.00"/><circle cx="1097.3" cy="118.1" r="10.29" stroke="#dc7a58" stroke-width="3.50" stroke-opacity="0.72"/><circle cx="1097.3" cy="118.1" r="10.29" stroke="#d04818" stroke-width="1.50" stroke-opacity="0.70"/><circle cx="1097.3" cy="118.1" r="16.10" stroke="#dc7a58" stroke-width="3.38" stroke-opacity="0.66"/><circle cx="1097.3" cy="118.1" r="16.10" stroke="#d04818" stroke-width="1.45" stroke-opacity="0.64"/><circle cx="1097.3" cy="118.1" r="21.45" stroke="#dc7a58" stroke-width="3.26" stroke-opacity="0.54"/><circle cx="1097.3" cy="118.1" r="21.45" stroke="#d04818" stroke-width="1.40" stroke-opacity="0.52"/><circle cx="1089.2" cy="141.2" r="17.30" fill="#fff" fill-opacity="0.35"/><circle cx="1089.2" cy="141.2" r="3.20" stroke="#686200" stroke-width="2.94" stroke-opacity="1.00"/><circle cx="1089.2" cy="141.2" r="7.74" stroke="#b0a640" stroke-width="2.63" stroke-opacity="0.72"/><circle cx="1089.2" cy="141.2" r="7.74" stroke="#686200" stroke-width="1.13" stroke-opacity="0.70"/><circle cx="1089.2" cy="141.2" r="12.11" stroke="#b0a640" stroke-width="2.54" stroke-opacity="0.66"/><circle cx="1089.2" cy="141.2" r="12.11" stroke="#686200" stroke-width="1.09" stroke-opacity="0.64"/><circle cx="1089.2" cy="141.2" r="16.13" stroke="#b0a640" stroke-width="2.45" stroke-opacity="0.54"/><circle cx="1089.2" cy="141.2" r="16.13" stroke="#686200" stroke-width="1.05" stroke-opacity="0.52"/><circle cx="1062.7" cy="146.9" r="18.50" fill="#fff" fill-opacity="0.35"/><circle cx="1062.7" cy="146.9" r="3.42" stroke="#24146a" stroke-width="3.15" stroke-opacity="1.00"/><circle cx="1062.7" cy="146.9" r="8.28" stroke="#4e4088" stroke-width="2.82" stroke-opacity="0.72"/><circle cx="1062.7" cy="146.9" r="8.28" stroke="#24146a" stroke-width="1.21" stroke-opacity="0.70"/><circle cx="1062.7" cy="146.9" r="12.95" stroke="#4e4088" stroke-width="2.72" stroke-opacity="0.66"/><circle cx="1062.7" cy="146.9" r="12.95" stroke="#24146a" stroke-width="1.17" stroke-opacity="0.64"/><circle cx="1062.7" cy="146.9" r="17.25" stroke="#4e4088" stroke-width="2.62" stroke-opacity="0.54"/><circle cx="1062.7" cy="146.9" r="17.25" stroke="#24146a" stroke-width="1.12" stroke-opacity="0.52"/><circle cx="1077.7" cy="173.5" r="27.70" fill="#fff" fill-opacity="0.35"/><circle cx="1077.7" cy="173.5" r="4.02" stroke="#686200" stroke-width="3.32" stroke-opacity="1.00"/><circle cx="1077.7" cy="173.5" r="9.56" stroke="#b0a640" stroke-width="3.49" stroke-opacity="0.72"/><circle cx="1077.7" cy="173.5" r="9.56" stroke="#686200" stroke-width="1.50" stroke-opacity="0.70"/><circle cx="1077.7" cy="173.5" r="15.30" stroke="#b0a640" stroke-width="3.64" stroke-opacity="0.68"/><circle cx="1077.7" cy="173.5" r="15.30" stroke="#686200" stroke-width="1.56" stroke-opacity="0.66"/><circle cx="1077.7" cy="173.5" r="21.05" stroke="#b0a640" stroke-width="3.49" stroke-opacity="0.61"/><circle cx="1077.7" cy="173.5" r="21.05" stroke="#686200" stroke-width="1.50" stroke-opacity="0.59"/><circle cx="1077.7" cy="173.5" r="26.11" stroke="#b0a640" stroke-width="3.34" stroke-opacity="0.47"/><circle cx="1077.7" cy="173.5" r="26.11" stroke="#686200" stroke-width="1.43" stroke-opacity="0.45"/><circle cx="1083.5" cy="193.1" r="19.60" fill="#fff" fill-opacity="0.35"/><circle cx="1083.5" cy="193.1" r="3.63" stroke="#0a7a0a" stroke-width="3.33" stroke-opacity="1.00"/><circle cx="1083.5" cy="193.1" r="8.77" stroke="#3c8c3c" stroke-width="2.98" stroke-opacity="0.72"/><circle cx="1083.5" cy="193.1" r="8.77" stroke="#0a7a0a" stroke-width="1.28" stroke-opacity="0.70"/><circle cx="1083.5" cy="193.1" r="13.72" stroke="#3c8c3c" stroke-width="2.88" stroke-opacity="0.66"/><circle cx="1083.5" cy="193.1" r="13.72" stroke="#0a7a0a" stroke-width="1.23" stroke-opacity="0.64"/><circle cx="1083.5" cy="193.1" r="18.28" stroke="#3c8c3c" stroke-width="2.78" stroke-opacity="0.54"/><circle cx="1083.5" cy="193.1" r="18.28" stroke="#0a7a0a" stroke-width="1.19" stroke-opacity="0.52"/><circle cx="860.6" cy="145.8" r="18.50" fill="#fff" fill-opacity="0.35"/><circle cx="860.6" cy="145.8" r="3.42" stroke="#c0102a" stroke-width="3.15" stroke-opacity="1.00"/><circle cx="860.6" cy="145.8" r="8.28" stroke="#c42c44" stroke-width="2.82" stroke-opacity="0.72"/><circle cx="860.6" cy="145.8" r="8.28" stroke="#c0102a" stroke-width="1.21" stroke-opacity="0.70"/><circle cx="860.6" cy="145.8" r="12.95" stroke="#c42c44" stroke-width="2.72" stroke-opacity="0.66"/><circle cx="860.6" cy="145.8" r="12.95" stroke="#c0102a" stroke-width="1.17" stroke-opacity="0.64"/><circle cx="860.6" cy="145.8" r="17.25" stroke="#c42c44" stroke-width="2.62" stroke-opacity="0.54"/><circle cx="860.6" cy="145.8" r="17.25" stroke="#c0102a" stroke-width="1.12" stroke-opacity="0.52"/><circle cx="877.1" cy="159.3" r="19.00" fill="#fff" fill-opacity="0.35"/><circle cx="877.1" cy="159.3" r="3.52" stroke="#c0102a" stroke-width="3.23" stroke-opacity="1.00"/><circle cx="877.1" cy="159.3" r="8.50" stroke="#c42c44" stroke-width="2.89" stroke-opacity="0.72"/><circle cx="877.1" cy="159.3" r="8.50" stroke="#c0102a" stroke-width="1.24" stroke-opacity="0.70"/><circle cx="877.1" cy="159.3" r="13.30" stroke="#c42c44" stroke-width="2.79" stroke-opacity="0.66"/><circle cx="877.1" cy="159.3" r="13.30" stroke="#c0102a" stroke-width="1.20" stroke-opacity="0.64"/><circle cx="877.1" cy="159.3" r="17.72" stroke="#c42c44" stroke-width="2.69" stroke-opacity="0.54"/><circle cx="877.1" cy="159.3" r="17.72" stroke="#c0102a" stroke-width="1.15" stroke-opacity="0.52"/><circle cx="852.0" cy="184.7" r="18.50" fill="#fff" fill-opacity="0.35"/><circle cx="852.0" cy="184.7" r="3.42" stroke="#686200" stroke-width="3.15" stroke-opacity="1.00"/><circle cx="852.0" cy="184.7" r="8.28" stroke="#b0a640" stroke-width="2.82" stroke-opacity="0.72"/><circle cx="852.0" cy="184.7" r="8.28" stroke="#686200" stroke-width="1.21" stroke-opacity="0.70"/><circle cx="852.0" cy="184.7" r="12.95" stroke="#b0a640" stroke-width="2.72" stroke-opacity="0.66"/><circle cx="852.0" cy="184.7" r="12.95" stroke="#686200" stroke-width="1.17" stroke-opacity="0.64"/><circle cx="852.0" cy="184.7" r="17.25" stroke="#b0a640" stroke-width="2.62" stroke-opacity="0.54"/><circle cx="852.0" cy="184.7" r="17.25" stroke="#686200" stroke-width="1.12" stroke-opacity="0.52"/><circle cx="940.1" cy="240.0" r="19.70" fill="#fff" fill-opacity="0.35"/><circle cx="940.1" cy="240.0" r="3.64" stroke="#c0102a" stroke-width="3.35" stroke-opacity="1.00"/><circle cx="940.1" cy="240.0" r="8.82" stroke="#c42c44" stroke-width="3.00" stroke-opacity="0.72"/><circle cx="940.1" cy="240.0" r="8.82" stroke="#c0102a" stroke-width="1.29" stroke-opacity="0.70"/><circle cx="940.1" cy="240.0" r="13.79" stroke="#c42c44" stroke-width="2.90" stroke-opacity="0.66"/><circle cx="940.1" cy="240.0" r="13.79" stroke="#c0102a" stroke-width="1.24" stroke-opacity="0.64"/><circle cx="940.1" cy="240.0" r="18.37" stroke="#c42c44" stroke-width="2.79" stroke-opacity="0.54"/><circle cx="940.1" cy="240.0" r="18.37" stroke="#c0102a" stroke-width="1.20" stroke-opacity="0.52"/><circle cx="535.0" cy="175.4" r="19.60" fill="#fff" fill-opacity="0.35"/><circle cx="535.0" cy="175.4" r="3.63" stroke="#c0102a" stroke-width="3.33" stroke-opacity="1.00"/><circle cx="535.0" cy="175.4" r="8.77" stroke="#c42c44" stroke-width="2.98" stroke-opacity="0.72"/><circle cx="535.0" cy="175.4" r="8.77" stroke="#c0102a" stroke-width="1.28" stroke-opacity="0.70"/><circle cx="535.0" cy="175.4" r="13.72" stroke="#c42c44" stroke-width="2.88" stroke-opacity="0.66"/><circle cx="535.0" cy="175.4" r="13.72" stroke="#c0102a" stroke-width="1.23" stroke-opacity="0.64"/><circle cx="535.0" cy="175.4" r="18.28" stroke="#c42c44" stroke-width="2.78" stroke-opacity="0.54"/><circle cx="535.0" cy="175.4" r="18.28" stroke="#c0102a" stroke-width="1.19" stroke-opacity="0.52"/><circle cx="243.9" cy="250.6" r="18.30" fill="#fff" fill-opacity="0.35"/><circle cx="243.9" cy="250.6" r="3.39" stroke="#0a7a0a" stroke-width="3.11" stroke-opacity="1.00"/><circle cx="243.9" cy="250.6" r="8.19" stroke="#3c8c3c" stroke-width="2.79" stroke-opacity="0.72"/><circle cx="243.9" cy="250.6" r="8.19" stroke="#0a7a0a" stroke-width="1.19" stroke-opacity="0.70"/><circle cx="243.9" cy="250.6" r="12.81" stroke="#3c8c3c" stroke-width="2.69" stroke-opacity="0.66"/><circle cx="243.9" cy="250.6" r="12.81" stroke="#0a7a0a" stroke-width="1.15" stroke-opacity="0.64"/><circle cx="243.9" cy="250.6" r="17.06" stroke="#3c8c3c" stroke-width="2.59" stroke-opacity="0.54"/><circle cx="243.9" cy="250.6" r="17.06" stroke="#0a7a0a" stroke-width="1.11" stroke-opacity="0.52"/><circle cx="276.0" cy="256.4" r="19.00" fill="#fff" fill-opacity="0.35"/><circle cx="276.0" cy="256.4" r="3.52" stroke="#0c0cb8" stroke-width="3.23" stroke-opacity="1.00"/><circle cx="276.0" cy="256.4" r="8.50" stroke="#3434b8" stroke-width="2.89" stroke-opacity="0.72"/><circle cx="276.0" cy="256.4" r="8.50" stroke="#0c0cb8" stroke-width="1.24" stroke-opacity="0.70"/><circle cx="276.0" cy="256.4" r="13.30" stroke="#3434b8" stroke-width="2.79" stroke-opacity="0.66"/><circle cx="276.0" cy="256.4" r="13.30" stroke="#0c0cb8" stroke-width="1.20" stroke-opacity="0.64"/><circle cx="276.0" cy="256.4" r="17.72" stroke="#3434b8" stroke-width="2.69" stroke-opacity="0.54"/><circle cx="276.0" cy="256.4" r="17.72" stroke="#0c0cb8" stroke-width="1.15" stroke-opacity="0.52"/><circle cx="288.3" cy="271.7" r="15.50" fill="#fff" fill-opacity="0.35"/><circle cx="288.3" cy="271.7" r="2.87" stroke="#686200" stroke-width="2.64" stroke-opacity="1.00"/><circle cx="288.3" cy="271.7" r="6.94" stroke="#b0a640" stroke-width="2.36" stroke-opacity="0.72"/><circle cx="288.3" cy="271.7" r="6.94" stroke="#686200" stroke-width="1.01" stroke-opacity="0.70"/><circle cx="288.3" cy="271.7" r="10.85" stroke="#b0a640" stroke-width="2.28" stroke-opacity="0.66"/><circle cx="288.3" cy="271.7" r="10.85" stroke="#686200" stroke-width="0.98" stroke-opacity="0.64"/><circle cx="288.3" cy="271.7" r="14.45" stroke="#b0a640" stroke-width="2.20" stroke-opacity="0.54"/><circle cx="288.3" cy="271.7" r="14.45" stroke="#686200" stroke-width="0.94" stroke-opacity="0.52"/><circle cx="316.3" cy="274.2" r="18.50" fill="#fff" fill-opacity="0.35"/><circle cx="316.3" cy="274.2" r="3.42" stroke="#c0102a" stroke-width="3.15" stroke-opacity="1.00"/><circle cx="316.3" cy="274.2" r="8.28" stroke="#c42c44" stroke-width="2.82" stroke-opacity="0.72"/><circle cx="316.3" cy="274.2" r="8.28" stroke="#c0102a" stroke-width="1.21" stroke-opacity="0.70"/><circle cx="316.3" cy="274.2" r="12.95" stroke="#c42c44" stroke-width="2.72" stroke-opacity="0.66"/><circle cx="316.3" cy="274.2" r="12.95" stroke="#c0102a" stroke-width="1.17" stroke-opacity="0.64"/><circle cx="316.3" cy="274.2" r="17.25" stroke="#c42c44" stroke-width="2.62" stroke-opacity="0.54"/><circle cx="316.3" cy="274.2" r="17.25" stroke="#c0102a" stroke-width="1.12" stroke-opacity="0.52"/><circle cx="237.3" cy="291.5" r="25.00" fill="#fff" fill-opacity="0.35"/><circle cx="237.3" cy="291.5" r="3.62" stroke="#c0102a" stroke-width="3.00" stroke-opacity="1.00"/><circle cx="237.3" cy="291.5" r="8.62" stroke="#c42c44" stroke-width="3.15" stroke-opacity="0.72"/><circle cx="237.3" cy="291.5" r="8.62" stroke="#c0102a" stroke-width="1.35" stroke-opacity="0.70"/><circle cx="237.3" cy="291.5" r="13.81" stroke="#c42c44" stroke-width="3.28" stroke-opacity="0.68"/><circle cx="237.3" cy="291.5" r="13.81" stroke="#c0102a" stroke-width="1.41" stroke-opacity="0.66"/><circle cx="237.3" cy="291.5" r="19.00" stroke="#c42c44" stroke-width="3.15" stroke-opacity="0.61"/><circle cx="237.3" cy="291.5" r="19.00" stroke="#c0102a" stroke-width="1.35" stroke-opacity="0.59"/><circle cx="237.3" cy="291.5" r="23.56" stroke="#c42c44" stroke-width="3.02" stroke-opacity="0.47"/><circle cx="237.3" cy="291.5" r="23.56" stroke="#c0102a" stroke-width="1.29" stroke-opacity="0.45"/><circle cx="311.1" cy="299.6" r="18.30" fill="#fff" fill-opacity="0.35"/><circle cx="311.1" cy="299.6" r="3.39" stroke="#c0102a" stroke-width="3.11" stroke-opacity="1.00"/><circle cx="311.1" cy="299.6" r="8.19" stroke="#c42c44" stroke-width="2.79" stroke-opacity="0.72"/><circle cx="311.1" cy="299.6" r="8.19" stroke="#c0102a" stroke-width="1.19" stroke-opacity="0.70"/><circle cx="311.1" cy="299.6" r="12.81" stroke="#c42c44" stroke-width="2.69" stroke-opacity="0.66"/><circle cx="311.1" cy="299.6" r="12.81" stroke="#c0102a" stroke-width="1.15" stroke-opacity="0.64"/><circle cx="311.1" cy="299.6" r="17.06" stroke="#c42c44" stroke-width="2.59" stroke-opacity="0.54"/><circle cx="311.1" cy="299.6" r="17.06" stroke="#c0102a" stroke-width="1.11" stroke-opacity="0.52"/><circle cx="315.8" cy="330.7" r="14.50" fill="#fff" fill-opacity="0.35"/><circle cx="315.8" cy="330.7" r="2.68" stroke="#c0102a" stroke-width="2.47" stroke-opacity="1.00"/><circle cx="315.8" cy="330.7" r="6.49" stroke="#c42c44" stroke-width="2.21" stroke-opacity="0.72"/><circle cx="315.8" cy="330.7" r="6.49" stroke="#c0102a" stroke-width="0.95" stroke-opacity="0.70"/><circle cx="315.8" cy="330.7" r="10.15" stroke="#c42c44" stroke-width="2.13" stroke-opacity="0.66"/><circle cx="315.8" cy="330.7" r="10.15" stroke="#c0102a" stroke-width="0.91" stroke-opacity="0.64"/><circle cx="315.8" cy="330.7" r="13.52" stroke="#c42c44" stroke-width="2.06" stroke-opacity="0.54"/><circle cx="315.8" cy="330.7" r="13.52" stroke="#c0102a" stroke-width="0.88" stroke-opacity="0.52"/><circle cx="344.1" cy="384.2" r="18.80" fill="#fff" fill-opacity="0.35"/><circle cx="344.1" cy="384.2" r="3.48" stroke="#0a7a0a" stroke-width="3.20" stroke-opacity="1.00"/><circle cx="344.1" cy="384.2" r="8.41" stroke="#3c8c3c" stroke-width="2.86" stroke-opacity="0.72"/><circle cx="344.1" cy="384.2" r="8.41" stroke="#0a7a0a" stroke-width="1.23" stroke-opacity="0.70"/><circle cx="344.1" cy="384.2" r="13.16" stroke="#3c8c3c" stroke-width="2.76" stroke-opacity="0.66"/><circle cx="344.1" cy="384.2" r="13.16" stroke="#0a7a0a" stroke-width="1.18" stroke-opacity="0.64"/><circle cx="344.1" cy="384.2" r="17.53" stroke="#3c8c3c" stroke-width="2.66" stroke-opacity="0.54"/><circle cx="344.1" cy="384.2" r="17.53" stroke="#0a7a0a" stroke-width="1.14" stroke-opacity="0.52"/><circle cx="361.8" cy="424.9" r="17.20" fill="#fff" fill-opacity="0.35"/><circle cx="361.8" cy="424.9" r="3.18" stroke="#686200" stroke-width="2.92" stroke-opacity="1.00"/><circle cx="361.8" cy="424.9" r="7.70" stroke="#b0a640" stroke-width="2.62" stroke-opacity="0.72"/><circle cx="361.8" cy="424.9" r="7.70" stroke="#686200" stroke-width="1.12" stroke-opacity="0.70"/><circle cx="361.8" cy="424.9" r="12.04" stroke="#b0a640" stroke-width="2.53" stroke-opacity="0.66"/><circle cx="361.8" cy="424.9" r="12.04" stroke="#686200" stroke-width="1.08" stroke-opacity="0.64"/><circle cx="361.8" cy="424.9" r="16.04" stroke="#b0a640" stroke-width="2.44" stroke-opacity="0.54"/><circle cx="361.8" cy="424.9" r="16.04" stroke="#686200" stroke-width="1.04" stroke-opacity="0.52"/><circle cx="361.3" cy="440.2" r="13.50" fill="#fff" fill-opacity="0.35"/><circle cx="361.3" cy="440.2" r="2.50" stroke="#686200" stroke-width="2.30" stroke-opacity="1.00"/><circle cx="361.3" cy="440.2" r="6.04" stroke="#b0a640" stroke-width="2.06" stroke-opacity="0.72"/><circle cx="361.3" cy="440.2" r="6.04" stroke="#686200" stroke-width="0.88" stroke-opacity="0.70"/><circle cx="361.3" cy="440.2" r="9.45" stroke="#b0a640" stroke-width="1.98" stroke-opacity="0.66"/><circle cx="361.3" cy="440.2" r="9.45" stroke="#686200" stroke-width="0.85" stroke-opacity="0.64"/><circle cx="361.3" cy="440.2" r="12.59" stroke="#b0a640" stroke-width="1.91" stroke-opacity="0.54"/><circle cx="361.3" cy="440.2" r="12.59" stroke="#686200" stroke-width="0.82" stroke-opacity="0.52"/><circle cx="933.2" cy="281.2" r="19.40" fill="#fff" fill-opacity="0.35"/><circle cx="933.2" cy="281.2" r="3.59" stroke="#c0102a" stroke-width="3.30" stroke-opacity="1.00"/><circle cx="933.2" cy="281.2" r="8.68" stroke="#c42c44" stroke-width="2.95" stroke-opacity="0.72"/><circle cx="933.2" cy="281.2" r="8.68" stroke="#c0102a" stroke-width="1.27" stroke-opacity="0.70"/><circle cx="933.2" cy="281.2" r="13.58" stroke="#c42c44" stroke-width="2.85" stroke-opacity="0.66"/><circle cx="933.2" cy="281.2" r="13.58" stroke="#c0102a" stroke-width="1.22" stroke-opacity="0.64"/><circle cx="933.2" cy="281.2" r="18.09" stroke="#c42c44" stroke-width="2.75" stroke-opacity="0.54"/><circle cx="933.2" cy="281.2" r="18.09" stroke="#c0102a" stroke-width="1.18" stroke-opacity="0.52"/><circle cx="1043.4" cy="281.2" r="24.50" fill="#fff" fill-opacity="0.35"/><circle cx="1043.4" cy="281.2" r="3.55" stroke="#c0102a" stroke-width="2.94" stroke-opacity="1.00"/><circle cx="1043.4" cy="281.2" r="8.45" stroke="#c42c44" stroke-width="3.09" stroke-opacity="0.72"/><circle cx="1043.4" cy="281.2" r="8.45" stroke="#c0102a" stroke-width="1.32" stroke-opacity="0.70"/><circle cx="1043.4" cy="281.2" r="13.54" stroke="#c42c44" stroke-width="3.22" stroke-opacity="0.68"/><circle cx="1043.4" cy="281.2" r="13.54" stroke="#c0102a" stroke-width="1.38" stroke-opacity="0.66"/><circle cx="1043.4" cy="281.2" r="18.62" stroke="#c42c44" stroke-width="3.09" stroke-opacity="0.61"/><circle cx="1043.4" cy="281.2" r="18.62" stroke="#c0102a" stroke-width="1.32" stroke-opacity="0.59"/><circle cx="1043.4" cy="281.2" r="23.09" stroke="#c42c44" stroke-width="2.96" stroke-opacity="0.47"/><circle cx="1043.4" cy="281.2" r="23.09" stroke="#c0102a" stroke-width="1.27" stroke-opacity="0.45"/><circle cx="958.2" cy="332.2" r="19.40" fill="#fff" fill-opacity="0.35"/><circle cx="958.2" cy="332.2" r="3.59" stroke="#c0102a" stroke-width="3.30" stroke-opacity="1.00"/><circle cx="958.2" cy="332.2" r="8.68" stroke="#c42c44" stroke-width="2.95" stroke-opacity="0.72"/><circle cx="958.2" cy="332.2" r="8.68" stroke="#c0102a" stroke-width="1.27" stroke-opacity="0.70"/><circle cx="958.2" cy="332.2" r="13.58" stroke="#c42c44" stroke-width="2.85" stroke-opacity="0.66"/><circle cx="958.2" cy="332.2" r="13.58" stroke="#c0102a" stroke-width="1.22" stroke-opacity="0.64"/><circle cx="958.2" cy="332.2" r="18.09" stroke="#c42c44" stroke-width="2.75" stroke-opacity="0.54"/><circle cx="958.2" cy="332.2" r="18.09" stroke="#c0102a" stroke-width="1.18" stroke-opacity="0.52"/><circle cx="1044.4" cy="325.2" r="19.40" fill="#fff" fill-opacity="0.35"/><circle cx="1044.4" cy="325.2" r="3.59" stroke="#0c0cb8" stroke-width="3.30" stroke-opacity="1.00"/><circle cx="1044.4" cy="325.2" r="8.68" stroke="#3434b8" stroke-width="2.95" stroke-opacity="0.72"/><circle cx="1044.4" cy="325.2" r="8.68" stroke="#0c0cb8" stroke-width="1.27" stroke-opacity="0.70"/><circle cx="1044.4" cy="325.2" r="13.58" stroke="#3434b8" stroke-width="2.85" stroke-opacity="0.66"/><circle cx="1044.4" cy="325.2" r="13.58" stroke="#0c0cb8" stroke-width="1.22" stroke-opacity="0.64"/><circle cx="1044.4" cy="325.2" r="18.09" stroke="#3434b8" stroke-width="2.75" stroke-opacity="0.54"/><circle cx="1044.4" cy="325.2" r="18.09" stroke="#0c0cb8" stroke-width="1.18" stroke-opacity="0.52"/><circle cx="1010.2" cy="354.7" r="14.80" fill="#fff" fill-opacity="0.35"/><circle cx="1010.2" cy="354.7" r="2.74" stroke="#c0102a" stroke-width="2.52" stroke-opacity="1.00"/><circle cx="1010.2" cy="354.7" r="6.62" stroke="#c42c44" stroke-width="2.25" stroke-opacity="0.72"/><circle cx="1010.2" cy="354.7" r="6.62" stroke="#c0102a" stroke-width="0.97" stroke-opacity="0.70"/><circle cx="1010.2" cy="354.7" r="10.36" stroke="#c42c44" stroke-width="2.18" stroke-opacity="0.66"/><circle cx="1010.2" cy="354.7" r="10.36" stroke="#c0102a" stroke-width="0.93" stroke-opacity="0.64"/><circle cx="1010.2" cy="354.7" r="13.80" stroke="#c42c44" stroke-width="2.10" stroke-opacity="0.54"/><circle cx="1010.2" cy="354.7" r="13.80" stroke="#c0102a" stroke-width="0.90" stroke-opacity="0.52"/><circle cx="1206.3" cy="396.6" r="14.00" fill="#fff" fill-opacity="0.35"/><circle cx="1206.3" cy="396.6" r="2.59" stroke="#c0102a" stroke-width="2.38" stroke-opacity="1.00"/><circle cx="1206.3" cy="396.6" r="6.27" stroke="#c42c44" stroke-width="2.13" stroke-opacity="0.72"/><circle cx="1206.3" cy="396.6" r="6.27" stroke="#c0102a" stroke-width="0.91" stroke-opacity="0.70"/><circle cx="1206.3" cy="396.6" r="9.80" stroke="#c42c44" stroke-width="2.06" stroke-opacity="0.66"/><circle cx="1206.3" cy="396.6" r="9.80" stroke="#c0102a" stroke-width="0.88" stroke-opacity="0.64"/><circle cx="1206.3" cy="396.6" r="13.05" stroke="#c42c44" stroke-width="1.98" stroke-opacity="0.54"/><circle cx="1206.3" cy="396.6" r="13.05" stroke="#c0102a" stroke-width="0.85" stroke-opacity="0.52"/><circle cx="1200.9" cy="410.0" r="15.50" fill="#fff" fill-opacity="0.35"/><circle cx="1200.9" cy="410.0" r="2.87" stroke="#c0102a" stroke-width="2.64" stroke-opacity="1.00"/><circle cx="1200.9" cy="410.0" r="6.94" stroke="#c42c44" stroke-width="2.36" stroke-opacity="0.72"/><circle cx="1200.9" cy="410.0" r="6.94" stroke="#c0102a" stroke-width="1.01" stroke-opacity="0.70"/><circle cx="1200.9" cy="410.0" r="10.85" stroke="#c42c44" stroke-width="2.28" stroke-opacity="0.66"/><circle cx="1200.9" cy="410.0" r="10.85" stroke="#c0102a" stroke-width="0.98" stroke-opacity="0.64"/><circle cx="1200.9" cy="410.0" r="14.45" stroke="#c42c44" stroke-width="2.20" stroke-opacity="0.54"/><circle cx="1200.9" cy="410.0" r="14.45" stroke="#c0102a" stroke-width="0.94" stroke-opacity="0.52"/><circle cx="1241.8" cy="399.8" r="19.80" fill="#fff" fill-opacity="0.35"/><circle cx="1241.8" cy="399.8" r="3.66" stroke="#24146a" stroke-width="3.37" stroke-opacity="1.00"/><circle cx="1241.8" cy="399.8" r="8.86" stroke="#4e4088" stroke-width="3.01" stroke-opacity="0.72"/><circle cx="1241.8" cy="399.8" r="8.86" stroke="#24146a" stroke-width="1.29" stroke-opacity="0.70"/><circle cx="1241.8" cy="399.8" r="13.86" stroke="#4e4088" stroke-width="2.91" stroke-opacity="0.66"/><circle cx="1241.8" cy="399.8" r="13.86" stroke="#24146a" stroke-width="1.25" stroke-opacity="0.64"/><circle cx="1241.8" cy="399.8" r="18.46" stroke="#4e4088" stroke-width="2.81" stroke-opacity="0.54"/><circle cx="1241.8" cy="399.8" r="18.46" stroke="#24146a" stroke-width="1.20" stroke-opacity="0.52"/><circle cx="1218.2" cy="460.2" r="19.40" fill="#fff" fill-opacity="0.35"/><circle cx="1218.2" cy="460.2" r="3.59" stroke="#686200" stroke-width="3.30" stroke-opacity="1.00"/><circle cx="1218.2" cy="460.2" r="8.68" stroke="#b0a640" stroke-width="2.95" stroke-opacity="0.72"/><circle cx="1218.2" cy="460.2" r="8.68" stroke="#686200" stroke-width="1.27" stroke-opacity="0.70"/><circle cx="1218.2" cy="460.2" r="13.58" stroke="#b0a640" stroke-width="2.85" stroke-opacity="0.66"/><circle cx="1218.2" cy="460.2" r="13.58" stroke="#686200" stroke-width="1.22" stroke-opacity="0.64"/><circle cx="1218.2" cy="460.2" r="18.09" stroke="#b0a640" stroke-width="2.75" stroke-opacity="0.54"/><circle cx="1218.2" cy="460.2" r="18.09" stroke="#686200" stroke-width="1.18" stroke-opacity="0.52"/><circle cx="871.3" cy="491.3" r="24.90" fill="#fff" fill-opacity="0.35"/><circle cx="871.3" cy="491.3" r="3.61" stroke="#c0102a" stroke-width="2.99" stroke-opacity="1.00"/><circle cx="871.3" cy="491.3" r="8.59" stroke="#c42c44" stroke-width="3.14" stroke-opacity="0.72"/><circle cx="871.3" cy="491.3" r="8.59" stroke="#c0102a" stroke-width="1.34" stroke-opacity="0.70"/><circle cx="871.3" cy="491.3" r="13.76" stroke="#c42c44" stroke-width="3.27" stroke-opacity="0.68"/><circle cx="871.3" cy="491.3" r="13.76" stroke="#c0102a" stroke-width="1.40" stroke-opacity="0.66"/><circle cx="871.3" cy="491.3" r="18.92" stroke="#c42c44" stroke-width="3.14" stroke-opacity="0.61"/><circle cx="871.3" cy="491.3" r="18.92" stroke="#c0102a" stroke-width="1.34" stroke-opacity="0.59"/><circle cx="871.3" cy="491.3" r="23.47" stroke="#c42c44" stroke-width="3.01" stroke-opacity="0.47"/><circle cx="871.3" cy="491.3" r="23.47" stroke="#c0102a" stroke-width="1.29" stroke-opacity="0.45"/></g>
<g font-family="Liberation Sans" font-weight="bold" font-size="19" fill="#000" stroke="#000" stroke-width="0.3"><text x="651.5" y="46.0" textLength="141.0" lengthAdjust="spacingAndGlyphs">M3.7  4Oct 10:18</text><text x="1120.0" y="140.4" textLength="140.8" lengthAdjust="spacingAndGlyphs">M5.2  4Oct 17:38</text><text x="715.4" y="160.5" textLength="141.0" lengthAdjust="spacingAndGlyphs">M4.3  4Oct 09:30</text><text x="928.3" y="160.0" textLength="141.0" lengthAdjust="spacingAndGlyphs">M4.6  4Oct 07:24</text><text x="554.0" y="193.3" textLength="141.0" lengthAdjust="spacingAndGlyphs">M4.5  4Oct 18:35</text><text x="871.2" y="202.4" textLength="141.0" lengthAdjust="spacingAndGlyphs">M4.3  4Oct 15:59</text><text x="1103.8" y="200.4" textLength="140.0" lengthAdjust="spacingAndGlyphs">M6.0  4Oct 15:21</text><text x="958.7" y="258.4" textLength="140.9" lengthAdjust="spacingAndGlyphs">M4.4  4Oct 17:15</text><text x="114.8" y="268.8" textLength="140.2" lengthAdjust="spacingAndGlyphs">M4.1  4Oct 13:51</text><text x="334.6" y="293.0" textLength="140.1" lengthAdjust="spacingAndGlyphs">M4.2  4Oct 16:26</text><text x="259.7" y="313.9" textLength="140.8" lengthAdjust="spacingAndGlyphs">M5.5  4Oct 09:02</text><text x="771.9" y="299.7" textLength="140.8" lengthAdjust="spacingAndGlyphs">M4.3  4Oct 20:31</text><text x="1065.4" y="304.0" textLength="140.2" lengthAdjust="spacingAndGlyphs">M5.0  4Oct 09:41</text><text x="330.6" y="345.5" textLength="141.0" lengthAdjust="spacingAndGlyphs">M3.8  4Oct 02:40</text><text x="1062.9" y="343.5" textLength="140.9" lengthAdjust="spacingAndGlyphs">M4.5  4Oct 15:40</text><text x="797.0" y="350.7" textLength="140.9" lengthAdjust="spacingAndGlyphs">M4.3  4Oct 01:56</text><text x="1024.8" y="368.7" textLength="140.5" lengthAdjust="spacingAndGlyphs">M3.8  4Oct 12:35</text><text x="362.5" y="402.0" textLength="141.0" lengthAdjust="spacingAndGlyphs">M4.1  4Oct 04:26</text><text x="194.5" y="455.0" textLength="141.0" lengthAdjust="spacingAndGlyphs">M3.6  4Oct 18:55</text><text x="381.0" y="442.6" textLength="141.0" lengthAdjust="spacingAndGlyphs">M4.6  4Oct 20:27</text><text x="893.6" y="513.6" textLength="140.9" lengthAdjust="spacingAndGlyphs">M5.0  4Oct 19:32</text></g>
<text x="9.4" y="29.7" font-family="Liberation Sans" font-weight="bold" font-size="29.5" textLength="229.6" lengthAdjust="spacingAndGlyphs">Earthquakes M3+</text>
<text x="9.4" y="57.8" font-family="Liberation Sans" font-weight="bold" font-size="23" textLength="324.3" lengthAdjust="spacingAndGlyphs">updated:  4 Oct 2025 21:20 (UTC)</text>
<text x="1120.4" y="34.9" font-family="Liberation Sans" font-weight="bold" font-size="29.2" textLength="138.6" lengthAdjust="spacingAndGlyphs">4 Oct 2025</text>
<text x="9.5" y="588.3" font-family="Liberation Sans" font-size="11.8" textLength="237.9" lengthAdjust="spacingAndGlyphs">Map base: Robinson projection of the world</text>
<text x="9.5" y="618.8" font-family="Liberation Sans" font-size="11" fill="#8a8a8a" textLength="197.5" lengthAdjust="spacingAndGlyphs">generated in 0.13ms  4 Oct 2025 21:20</text>
<g fill="none"><circle cx="1174.8" cy="620.2" r="7.6" stroke="#cc1a1a" stroke-width="2.5"/><circle cx="1174.8" cy="620.2" r="3.2" stroke="#cc1a1a" stroke-width="2.6"/><circle cx="1190.3" cy="620.2" r="7.6" stroke="#d84a1e" stroke-width="2.5"/><circle cx="1190.3" cy="620.2" r="3.2" stroke="#d84a1e" stroke-width="2.6"/><circle cx="1205.3" cy="620.2" r="7.6" stroke="#9a7c1c" stroke-width="2.5"/><circle cx="1205.3" cy="620.2" r="3.2" stroke="#9a7c1c" stroke-width="2.6"/><circle cx="1220.3" cy="620.2" r="7.6" stroke="#1e9a1e" stroke-width="2.5"/><circle cx="1220.3" cy="620.2" r="3.2" stroke="#1e9a1e" stroke-width="2.6"/><circle cx="1235.3" cy="620.2" r="7.6" stroke="#1010c8" stroke-width="2.5"/><circle cx="1235.3" cy="620.2" r="3.2" stroke="#1010c8" stroke-width="2.6"/><circle cx="1250.8" cy="620.2" r="7.6" stroke="#2e2070" stroke-width="2.5"/><circle cx="1250.8" cy="620.2" r="3.2" stroke="#2e2070" stroke-width="2.6"/></g>
<text x="1159.8" y="642.6" font-family="Liberation Sans" font-size="10" textLength="43.2" lengthAdjust="spacingAndGlyphs">shallow</text>
<text x="1229.7" y="640.3" font-family="Liberation Sans" font-size="10" textLength="24.3" lengthAdjust="spacingAndGlyphs">deep</text>
<polygon points="881.3,634.8 897.9,623.6 911.2,623.6 927.1,634.8" fill="#333"/>
<text x="897.2" y="620.2" font-family="Liberation Sans" font-weight="bold" font-size="20" fill="#333" stroke="#333" stroke-width="1.1" textLength="109.6" lengthAdjust="spacingAndGlyphs">VOLCANO</text>
<text x="931.8" y="635.5" font-family="Liberation Sans" font-weight="bold" font-size="18" fill="#c42030" stroke="#c42030" stroke-width="0.5" textLength="96.9" lengthAdjust="spacingAndGlyphs">DISCOVERY</text>
</svg>
</body></html>
